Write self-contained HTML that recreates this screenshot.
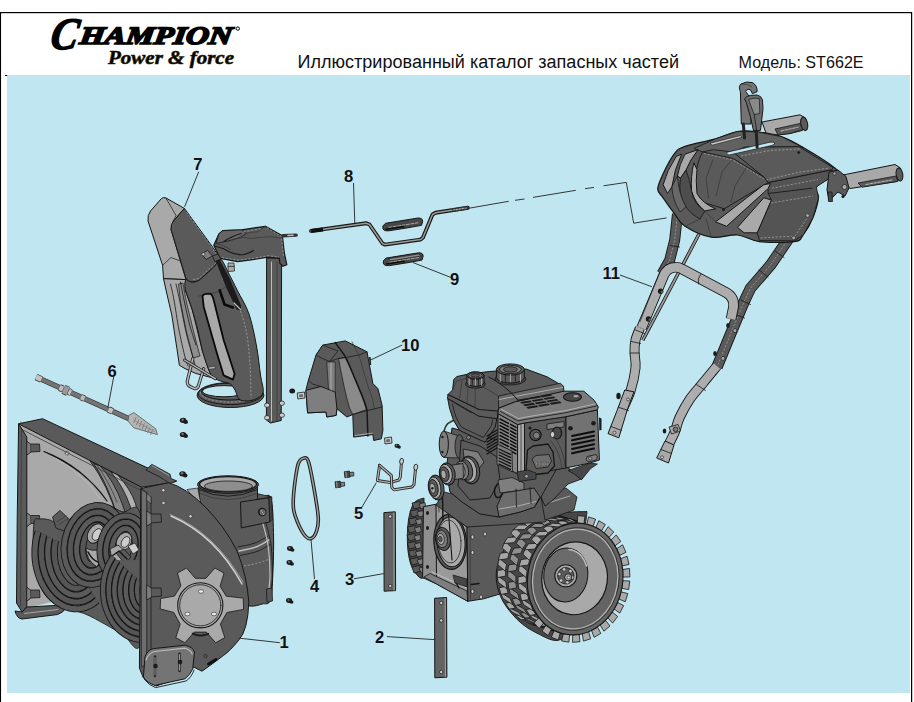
<!DOCTYPE html>
<html><head><meta charset="utf-8">
<style>
html,body{margin:0;padding:0;background:#fff;}
body{width:914px;height:702px;overflow:hidden;font-family:"Liberation Sans",sans-serif;}
svg{display:block;position:absolute;left:0;top:0;}
text{font-family:"Liberation Sans",sans-serif;}
.lb{font-weight:bold;font-size:16.6px;fill:#111;}
.ld{stroke:#222;stroke-width:0.9;fill:none;}
.d{fill:#5a5a5a;stroke:#161616;stroke-width:1;stroke-linejoin:round;}
.dd{fill:#474747;stroke:#161616;stroke-width:1;stroke-linejoin:round;}
.m{fill:#7e7e7e;stroke:#161616;stroke-width:1;stroke-linejoin:round;}
.l{fill:#a9a9a9;stroke:#161616;stroke-width:1;stroke-linejoin:round;}
.vl{fill:#cdcdcd;stroke:#161616;stroke-width:1;stroke-linejoin:round;}
.k{fill:#1b1b1b;stroke:none;}
.bg{fill:#c0e7f1;stroke:#161616;stroke-width:1;}
.n{fill:none;stroke:#161616;stroke-width:1;stroke-linecap:round;stroke-linejoin:round;}
.n2{fill:none;stroke:#161616;stroke-width:2;stroke-linecap:round;stroke-linejoin:round;}
.ng{fill:none;stroke:#3a3a3a;stroke-width:0.8;stroke-linecap:round;stroke-linejoin:round;}
.nw{fill:none;stroke:#b9b9b9;stroke-width:0.6;stroke-linecap:butt;stroke-dasharray:2.2 1.6;}
.nl{fill:none;stroke:#bdbdbd;stroke-width:1;stroke-linecap:round;}
</style></head><body>
<svg width="914" height="702" viewBox="0 0 914 702">
<g id="p_frame">
<rect x="0" y="0" width="914" height="702" fill="#fff"/>
<rect x="7" y="75" width="903" height="618" fill="#c0e7f1"/>
<rect x="0" y="12" width="1.05" height="690" fill="#000"/>
<rect x="911" y="12" width="1.2" height="690" fill="#000"/>
<rect x="0" y="12" width="912" height="1.2" fill="#000"/>
<rect x="5" y="75" width="2.2" height="1" fill="#000"/>
<g transform="translate(49,48.5) skewX(-10)"><text x="0" y="0" style="font-family:'Liberation Serif',serif;font-weight:bold;font-style:italic;font-size:45px" fill="#000" stroke="#000" stroke-width="1.4" textLength="27" lengthAdjust="spacingAndGlyphs">C</text></g>
<g transform="translate(79,43.8) skewX(-8)"><text x="0" y="0" style="font-family:'Liberation Serif',serif;font-weight:bold;font-style:italic;font-size:25px" fill="#000" stroke="#000" stroke-width="1.7" textLength="152" lengthAdjust="spacingAndGlyphs">HAMPION</text></g>
<circle cx="237.8" cy="28.6" r="1.7" fill="none" stroke="#000" stroke-width="1"/>
<text x="108" y="63.6" style="font-family:'Liberation Serif',serif;font-weight:bold;font-style:italic;font-size:19px" fill="#000" stroke="#2a2000" stroke-width="0.6" textLength="126" lengthAdjust="spacingAndGlyphs">Power &amp; force</text>
<text x="297.5" y="68" font-size="18" fill="#111" textLength="381.5" lengthAdjust="spacingAndGlyphs">Иллюстрированный каталог запасных частей</text>
<text x="738.6" y="68" font-size="16.2" fill="#111" textLength="125" lengthAdjust="spacingAndGlyphs">Модель: ST662E</text>
</g>
<g id="p_chute">
<ellipse class="d" cx="230.5" cy="395.3" rx="33.4" ry="12.2" />
<ellipse class="n" cx="230.5" cy="393.6" rx="32.4" ry="11.0" />
<ellipse class="nw" cx="230.5" cy="392.6" rx="30.0" ry="9.4" />
<ellipse class="d" cx="229.5" cy="391.6" rx="28.0" ry="8.4" />
<ellipse class="bg" cx="224.0" cy="391.2" rx="21.5" ry="5.6" />
<polygon class="d" points="266.6,258.0 281.6,258.0 281.2,420.5 270.5,423.0 266.4,420.0" />
<line class="nl" x1="271.5" y1="262.0" x2="271.5" y2="421.0" />
<line class="ng" x1="277.0" y1="262.0" x2="277.0" y2="421.0" />
<ellipse class="vl" cx="267.1" cy="405.2" rx="2.6" ry="2.2" style="stroke-width:0.7"/>
<ellipse class="vl" cx="267.1" cy="417.7" rx="2.6" ry="2.2" style="stroke-width:0.7"/>
<ellipse class="vl" cx="281.9" cy="403.2" rx="2.6" ry="2.2" style="stroke-width:0.7"/>
<ellipse class="vl" cx="281.9" cy="415.2" rx="2.6" ry="2.2" style="stroke-width:0.7"/>
<polygon class="d" points="213.8,245.2 218.9,233.9 222.6,230.7 241.5,229.8 265.4,226.3 282.4,235.8 284.3,252.7 286.8,264.7 283.0,266.3 279.9,263.4 279.3,258.4 267.9,257.1 252.8,259.7 237.7,261.6 220.1,258.4" style="stroke-width:1.2"/>
<polygon class="d" points="218.9,233.9 222.6,230.7 241.5,229.8 246.5,233.5 240.0,237.5 230.0,240.5 216.0,243.5" style="stroke-width:0.8;fill:#656565"/>
<path class="n" d="M214.5,246 Q222,247.5 228.5,251.5 Q236,255.5 244,254.5 Q250,253 253.5,250.5" style="stroke-width:1.1"/>
<path class="ng" d="M216,243.5 Q224,245 230.5,249.5" />
<path class="ng" d="M230,240.5 Q236,238 243,237.5 Q252,239.5 259,237.5 Q270,235.5 282,238" />
<path class="ng" d="M246.5,233.5 Q252,231.5 257,232 L265.4,226.3" />
<path class="n" d="M224,241.5 Q231,236.5 241,233.5" style="stroke-width:1.3"/>
<polyline class="nw" points="243.5,231.8 262.0,228.5" />
<polyline class="nw" points="267.0,227.8 281.5,236.5 283.5,256.0" />
<polyline class="nw" points="222.0,257.6 238.0,260.2 253.0,258.4 268.0,255.7 279.0,257.0" />
<polyline class="n" points="283.0,235.8 296.2,235.1" style="stroke-width:3.4;stroke:#333"/>
<polyline class="nl" points="288.0,235.5 293.0,235.3" style="stroke-width:1.6"/>
<polygon class="l" points="228.0,263.0 234.0,263.0 234.5,271.0 228.0,271.5" style="stroke-width:0.7"/>
<line class="n" x1="228.0" y1="266.5" x2="234.3" y2="266.3" style="stroke-width:0.7"/>
<path class="l" d="M150.5,211 L161.5,198.5 Q163.5,196.8 166,198 L184.4,208.4 L173.5,221 L171,229.4 L186,279.6 L163.5,278.7 L162.6,265.3 L148,221 Q147.4,215 150.5,211Z" />
<polyline class="n" points="166.0,198.2 176.0,215.5 173.5,221.0" style="stroke-width:0.7"/>
<polyline class="n" points="162.6,265.3 171.0,257.5 183.0,262.0" style="stroke-width:0.7"/>
<polygon class="l" points="163.5,278.7 186.0,279.6 185.2,290.0 192.3,310.0 202.2,350.0 208.8,370.0 213.0,378.0 196.0,373.5 185.2,368.7 179.4,365.3 176.9,348.6 171.8,315.0 166.0,290.0" />
<path class="m" d="M183.0,283.0 C183.5,285.8 184.5,293.0 186.0,300.0 C187.5,307.0 190.2,317.5 192.0,325.0 C193.8,332.5 195.7,339.8 197.0,345.0 C198.3,350.2 199.5,354.2 200.0,356.0 L193,358 L186,330 L180.5,302 L178.5,284Z" style="stroke-width:0.7;fill:#8d8d8d"/>
<path class="n" d="M170.5,284.0 C171.1,286.7 172.6,292.3 174.0,300.0 C175.4,307.7 177.2,320.8 179.0,330.0 C180.8,339.2 183.0,349.0 184.5,355.0 C186.0,361.0 187.4,364.2 188.0,366.0" style="stroke-width:0.8"/>
<path class="n" d="M176.0,284.0 C176.7,287.0 178.3,294.0 180.0,302.0 C181.7,310.0 184.1,323.7 186.0,332.0 C187.9,340.3 190.0,346.5 191.5,352.0 C193.0,357.5 194.4,362.8 195.0,365.0" style="stroke-width:0.8"/>
<path class="n" d="M180.5,282.0 C181.1,285.0 182.4,292.7 184.0,300.0 C185.6,307.3 188.0,318.5 190.0,326.0 C192.0,333.5 195.0,341.8 196.0,345.0" style="stroke-width:0.8"/>
<path class="d" d="M186.0,279.6 C187.0,278.6 188.9,281.7 191.0,281.8 C193.1,281.9 194.8,282.9 198.6,280.4 C202.4,277.9 210.1,270.6 213.7,267.0 C217.3,263.4 217.8,257.5 220.4,258.7 C223.0,259.9 226.2,268.8 229.0,274.0 C231.8,279.2 233.8,283.3 237.1,290.0 C240.4,296.7 245.8,304.7 249.0,314.0 C252.2,323.3 254.6,335.8 256.5,346.0 C258.4,356.2 259.4,367.3 260.5,375.0 C261.6,382.7 263.8,388.1 263.2,392.0 C262.6,395.9 259.7,397.0 257.0,398.5 C254.3,400.0 250.0,400.9 247.0,401.0 C244.0,401.1 241.0,400.8 239.0,399.0 C237.0,397.2 236.5,392.6 235.0,390.0 C233.5,387.4 232.0,385.1 229.8,383.7 C227.6,382.3 224.7,382.5 222.0,381.5 C219.3,380.5 216.0,379.6 213.8,377.7 C211.6,375.8 210.7,374.6 208.8,370.0 C206.9,365.4 204.0,356.7 202.2,350.0 C200.4,343.3 199.6,336.7 197.9,330.0 C196.2,323.3 193.8,315.0 192.3,310.0 C190.8,305.0 190.1,303.7 188.9,300.0 C187.7,296.3 185.5,291.4 185.0,288.0 C184.5,284.6 185.0,280.6 186.0,279.6Z" />
<path class="nw" d="M222.0,278.0 C224.3,281.7 232.0,291.3 236.0,300.0 C240.0,308.7 243.7,319.2 246.0,330.0 C248.3,340.8 249.2,353.7 250.0,365.0 C250.8,376.3 250.8,392.5 251.0,398.0" />
<path class="ng" d="M199.0,296.0 C201.5,295.5 209.5,294.5 214.0,293.0 C218.5,291.5 224.0,288.0 226.0,287.0" />
<path class="d" d="M184.4,208.4 L213.7,248.6 L220.4,258.7 L213.7,267 L199.5,279.8 Q196,282.3 191,281.8 Q187.5,281 186,278.7 L171,229.4 Q170.6,224 173.5,221Z" />
<polyline class="nw" points="186.5,212.0 216.5,254.0" />
<polyline class="nw" points="218.5,260.5 199.0,278.5 191.5,280.0" />
<polygon class="m" points="201.5,253.5 207.5,250.5 212.5,256.0 206.0,259.5" style="stroke-width:0.8"/>
<circle class="vl" cx="203.3" cy="254.2" r="1.6" style="stroke-width:0.6"/>
<polygon class="d" points="212.5,256.0 218.0,254.0 221.0,259.5 215.0,262.0" style="stroke-width:0.8"/>
<polygon class="k" points="215.6,260.5 219.5,259.2 230.0,279.0 241.0,305.5 240.8,310.5 236.5,309.5 226.0,287.0" />
<polyline class="n" points="219.8,290.3 224.5,304.5 233.0,307.5" style="stroke-width:2.6;stroke:#0a0a0a"/>
<polyline class="nl" points="234.0,303.0 240.5,309.5" style="stroke-width:1.2"/>
<path class="l" d="M202.5,296 Q203.5,294 206,293.8 L210.3,293.7 Q212.5,295 213.7,300 L223.7,340.2 L234.6,373.7 L233,379.6 L223.7,375.4 L217,353.6 L203.7,306.7Z" style="stroke-width:1.8;stroke:#0a0a0a"/>
<path class="n" d="M192.8,358.6 L187.2,381.5 Q187.3,385.5 190.5,386.8 L194.5,388.6 Q197.5,389 198.5,385.5 L203.7,368.7" style="stroke-width:3.2;stroke:#222"/>
<path class="n" d="M192.8,358.6 L187.2,381.5 Q187.3,385.5 190.5,386.8 L194.5,388.6 Q197.5,389 198.5,385.5 L203.7,368.7" style="stroke-width:1.6;stroke:#b5b5b5"/>
<polyline class="n" points="184.5,360.0 215.4,378.7" style="stroke-width:3;stroke:#222"/>
<polyline class="n" points="184.5,360.0 215.4,378.7" style="stroke-width:1.4;stroke:#b5b5b5"/>
<polygon class="l" points="208.5,367.0 215.0,366.0 215.5,368.5 209.0,369.5" style="stroke-width:0.5"/>
</g>
<g id="p_rod">
<polyline class="n" points="311.0,230.9 366.0,223.2 369.5,224.5 382.5,243.5 385.0,244.6 420.5,239.6 423.0,237.5 432.5,214.5 435.5,212.8 467.8,207.8" style="stroke-width:3.9;stroke:#1a1a1a"/>
<polyline class="n" points="311.0,230.9 366.0,223.2 369.5,224.5 382.5,243.5 385.0,244.6 420.5,239.6 423.0,237.5 432.5,214.5 435.5,212.8 467.8,207.8" style="stroke-width:1.5;stroke:#9a9a9a"/>
<polyline class="n" points="311.0,231.0 323.0,229.4" style="stroke-width:4;stroke:#111;stroke-linecap:butt"/>
<polyline class="n" points="452.0,210.2 468.5,207.7" style="stroke-width:3.6;stroke:#333;stroke-linecap:butt"/>
<polyline class="n" points="453.0,210.0 467.0,207.9" style="stroke-width:1.2;stroke:#aaa;stroke-dasharray:1.5 1.5"/>
<line class="ld" x1="468.0" y1="208.4" x2="508.7" y2="201.3" />
<line class="ld" x1="515.0" y1="200.3" x2="524.5" y2="199.0" />
<line class="ld" x1="533.0" y1="197.4" x2="575.8" y2="190.3" />
<line class="ld" x1="585.0" y1="188.7" x2="594.0" y2="187.4" />
<line class="ld" x1="603.5" y1="185.8" x2="626.3" y2="182.4" />
<line class="ld" x1="626.3" y1="182.4" x2="633.7" y2="223.2" />
<line class="ld" x1="633.7" y1="223.2" x2="666.6" y2="217.9" />
<path class="dd" d="M383,225.8 L385.5,223.3 L418,218.0 Q423,217.8 422.6,221.8 L421.5,225.3 L406,228.10000000000002 L389,230.8 Q381.5,231.60000000000002 383,225.8Z" />
<polyline class="nl" points="389.0,227.4 419.0,222.6" style="stroke-width:0.8;stroke-dasharray:3 1.4"/>
<polyline class="n" points="386.0,229.2 404.0,226.4" style="stroke-width:1.5;stroke:#0c0c0c"/>
<path class="dd" d="M383.5,260.6 L386.0,258.1 L418.5,252.79999999999998 Q423.5,252.6 423.1,256.6 L422.0,260.1 L406.5,262.9 L389.5,265.6 Q382.0,266.4 383.5,260.6Z" />
<path class="m" d="M388.5,258.8 L418.5,254.0 L421.1,255.79999999999998 L391.0,260.8Z" style="stroke-width:0.5;fill:#8c8c8c"/>
<polyline class="nl" points="389.5,262.2 419.5,257.4" style="stroke-width:0.8;stroke-dasharray:3 1.4"/>
<polyline class="n" points="386.5,264.0 404.5,261.2" style="stroke-width:1.5;stroke:#0c0c0c"/>
</g>
<g id="p_cover">
<polygon class="d" points="322.7,345.1 345.3,340.9 367.0,351.8 370.4,370.2 372.9,383.6 377.9,388.6 382.1,405.3 382.9,430.4 381.3,438.8 373.7,440.5 372.9,434.6 353.6,437.1 352.8,414.5 346.9,417.0 336.9,408.7 336.1,415.4 326.8,417.0 326.0,412.0 307.6,412.9 305.9,390.3 308.4,380.2 316.0,355.1" />
<polygon class="m" points="305.9,390.3 321.0,386.5 335.2,392.0 336.9,408.7 336.1,415.4 326.8,417.0 326.0,412.0 307.6,412.9" />
<polygon class="m" points="326.8,362.0 335.2,362.0 335.2,392.0 328.5,389.0" style="stroke-width:0.6"/>
<line class="nl" x1="331.0" y1="363.0" x2="331.0" y2="390.0" style="stroke-width:0.8"/>
<polygon class="d" points="322.7,345.1 338.0,351.0 329.5,361.5 322.5,358.5 316.0,355.1" style="stroke-width:0.7"/>
<polyline class="n" points="308.4,380.2 312.5,384.0 321.0,386.5" style="stroke-width:0.7"/>
<path class="m" d="M338.6,358.5 L346,357.5 Q350,366 352,371.8 L361.2,393.6 L366.6,409.5 L352.8,414.5 L349.5,408 Q345,392 342.8,380.2 Q340,368 338.6,358.5Z" style="stroke-width:0.7;fill:#8a8a8a"/>
<path class="n" d="M335.2,342.6 L344.4,355.1 Q349,364 352,371.8 L361.2,393.6 Q365.5,404 367,410.3 L367.9,436" style="stroke-width:1.5"/>
<path class="ng" d="M352,341.8 L358.7,355.1 Q362,364 363.7,371.8 L368.5,388 Q373,398 374.5,409" />
<polyline class="n" points="352.8,414.5 361.0,412.2 382.0,407.0" style="stroke-width:0.8"/>
<polyline class="n" points="329.5,361.5 338.6,358.5 346.0,357.5 358.7,355.1 367.0,351.8" style="stroke-width:0.7"/>
<polyline class="nl" points="355.0,435.5 372.0,433.2" style="stroke-width:0.8"/>
<polygon class="k" points="369.0,357.0 370.6,357.0 371.2,365.0 369.6,365.0" />
<ellipse class="k" cx="292.2" cy="391.0" rx="2.9" ry="2.5" />
<polygon class="vl" points="297.2,393.0 304.5,392.0 305.0,398.0 297.8,399.0" style="stroke-width:0.8"/>
<polygon class="m" points="299.5,394.8 302.5,394.5 302.7,396.6 299.7,396.9" style="stroke-width:0.4"/>
<polygon class="vl" points="384.5,438.0 391.5,437.0 392.0,443.0 385.0,444.0" style="stroke-width:0.8"/>
<polygon class="m" points="386.5,439.8 389.5,439.5 389.7,441.6 386.7,441.9" style="stroke-width:0.4"/>
<ellipse class="k" cx="397.0" cy="445.8" rx="2.6" ry="2.1" />
<ellipse class="k" cx="399.1" cy="447.1" rx="1.8" ry="1.6" />
<circle cx="396.5" cy="445.3" r="0.9" fill="#777"/>
</g>
<g id="p_handle">
<path class="n" d="M699.0,234.0 L670.0,289.0 L642.8,340.2" style="stroke-width:3.5;stroke:#222;stroke-linecap:butt"/>
<path class="n" d="M699.0,234.0 L670.0,289.0 L642.8,340.2" style="stroke-width:1.7;stroke:#999;stroke-linecap:butt"/>
<polygon class="l" points="762.0,122.0 800.0,114.8 805.5,118.0 807.0,126.0 802.0,130.5 790.0,133.5 767.0,136.0" />
<polygon class="d" points="775.0,129.0 800.0,123.5 803.5,129.5 790.0,133.5 778.0,135.0" style="stroke-width:0.8"/>
<ellipse class="d" cx="804.2" cy="123.8" rx="3.4" ry="6.8" transform="rotate(-12 804.2 123.8)" />
<polyline class="nl" points="781.0,131.0 798.0,127.2" style="stroke-dasharray:2.5 1.5"/>
<path class="n" d="M677.5,214.0 L674.7,240.0 L669.6,260.5 L662.0,274.0" style="stroke-width:11.0;stroke:#161616;stroke-linecap:butt"/>
<path class="n" d="M677.5,214.0 L674.7,240.0 L669.6,260.5 L662.0,274.0" style="stroke-width:9.2;stroke:#5a5a5a;stroke-linecap:butt"/>
<path class="nw" d="M677.5,214.0 L674.7,240.0 L669.6,260.5 L662.0,274.0" />
<polyline class="n" points="670.5,245.5 679.5,247.0" style="stroke-width:0.8"/>
<polyline class="n" points="666.0,264.0 673.0,268.0" style="stroke-width:0.8"/>
<path class="n" d="M789.0,238.0 L771.0,264.5 L750.4,288.4 L743.5,303.0 L731.0,333.0 L717.0,367.0" style="stroke-width:11.4;stroke:#161616;stroke-linecap:butt"/>
<path class="n" d="M789.0,238.0 L771.0,264.5 L750.4,288.4 L743.5,303.0 L731.0,333.0 L717.0,367.0" style="stroke-width:9.6;stroke:#5a5a5a;stroke-linecap:butt"/>
<path class="nw" d="M789.0,238.0 L771.0,264.5 L750.4,288.4 L743.5,303.0 L731.0,333.0 L717.0,367.0" />
<polyline class="n" points="775.0,251.0 784.0,257.5" style="stroke-width:0.8"/>
<polyline class="n" points="759.0,270.0 768.0,277.0" style="stroke-width:0.8"/>
<polyline class="n" points="741.0,300.0 750.5,304.5" style="stroke-width:0.8"/>
<polyline class="n" points="735.0,314.0 744.5,318.0" style="stroke-width:0.8"/>
<circle class="l" cx="793.5" cy="237.8" r="2.0" style="stroke-width:0.7"/>
<circle class="l" cx="734.9" cy="330.6" r="2.0" style="stroke-width:0.7"/>
<circle class="l" cx="723.0" cy="358.4" r="2.0" style="stroke-width:0.7"/>
<ellipse class="k" cx="728.0" cy="325.5" rx="1.8" ry="2.6" />
<ellipse class="k" cx="715.0" cy="353.5" rx="1.8" ry="2.6" />
<path class="n" d="M641.5,328 L663.5,276 Q667,267.5 675,267.3 Q678.5,267 682,269 L726,292.5 Q734.5,297 733.5,307 L731,319" style="stroke-width:10.6;stroke:#161616;stroke-linecap:butt"/>
<path class="n" d="M641.5,328 L663.5,276 Q667,267.5 675,267.3 Q678.5,267 682,269 L726,292.5 Q734.5,297 733.5,307 L731,319" style="stroke-width:8.8;stroke:#adadad;stroke-linecap:butt"/>
<path class="n" d="M700.5,274.5 Q697,279 698.5,284" style="stroke-width:0.8"/>
<line class="n" x1="659.5" y1="272.5" x2="640.0" y2="321.5" style="stroke-width:0.7"/>
<path class="n" d="M640.0,328.0 C639.2,330.0 636.4,336.0 635.5,340.0 C634.6,344.0 634.5,347.3 634.5,352.0 C634.5,356.7 636.2,361.5 635.5,368.0 C634.8,374.5 632.7,384.0 630.5,391.0 C628.3,398.0 623.6,407.0 622.2,410.2" style="stroke-width:10.0;stroke:#161616;stroke-linecap:butt"/>
<path class="n" d="M640.0,328.0 C639.2,330.0 636.4,336.0 635.5,340.0 C634.6,344.0 634.5,347.3 634.5,352.0 C634.5,356.7 636.2,361.5 635.5,368.0 C634.8,374.5 632.7,384.0 630.5,391.0 C628.3,398.0 623.6,407.0 622.2,410.2" style="stroke-width:8.2;stroke:#adadad;stroke-linecap:butt"/>
<polygon class="l" points="624.7,390.0 633.9,391.8 627.2,410.2 618.8,437.8 608.0,433.6 617.2,410.2" />
<polyline class="n" points="619.0,407.5 628.5,410.5" style="stroke-width:0.8"/>
<polyline class="n" points="611.0,426.5 621.5,430.5" style="stroke-width:0.8"/>
<circle class="vl" cx="614.5" cy="432.7" r="1.5" style="stroke-width:0.6"/>
<circle class="vl" cx="628.0" cy="399.5" r="1.5" style="stroke-width:0.6"/>
<ellipse class="k" cx="618.5" cy="396.0" rx="2.2" ry="3.2" />
<polyline class="n" points="631.5,341.5 640.5,343.5" style="stroke-width:0.8"/>
<polyline class="n" points="630.3,353.0 639.3,353.0" style="stroke-width:0.8"/>
<polyline class="n" points="635.5,330.0 644.5,333.5" style="stroke-width:0.8"/>
<circle class="k" cx="660.6" cy="291.2" r="2.7" />
<circle class="m" cx="661.9" cy="291.9" r="1.2" style="stroke-width:0.4"/>
<circle class="k" cx="648.5" cy="319.0" r="2.7" />
<circle class="m" cx="649.8" cy="319.7" r="1.2" style="stroke-width:0.4"/>
<path class="n" d="M717.0,366.0 C714.7,368.8 707.5,377.4 703.0,383.0 C698.5,388.6 693.6,393.7 689.7,399.4 C685.8,405.1 682.2,412.0 679.7,417.3 C677.2,422.6 676.7,427.0 675.0,431.3 C673.3,435.6 670.4,441.1 669.5,443.0" style="stroke-width:10.200000000000001;stroke:#161616;stroke-linecap:butt"/>
<path class="n" d="M717.0,366.0 C714.7,368.8 707.5,377.4 703.0,383.0 C698.5,388.6 693.6,393.7 689.7,399.4 C685.8,405.1 682.2,412.0 679.7,417.3 C677.2,422.6 676.7,427.0 675.0,431.3 C673.3,435.6 670.4,441.1 669.5,443.0" style="stroke-width:8.4;stroke:#adadad;stroke-linecap:butt"/>
<polyline class="n" points="696.5,384.5 705.5,390.5" style="stroke-width:0.8"/>
<polygon class="l" points="665.0,441.0 674.0,445.0 668.5,463.0 656.7,458.0" />
<polyline class="n" points="661.0,449.5 671.5,453.5" style="stroke-width:0.8"/>
<circle class="vl" cx="662.0" cy="457.3" r="1.5" style="stroke-width:0.6"/>
<polygon class="l" points="669.0,427.0 678.0,424.5 680.5,431.0 671.5,434.0" style="stroke-width:0.8"/>
<circle class="m" cx="675.5" cy="429.3" r="2.3" style="stroke-width:0.8"/>
<ellipse class="k" cx="664.5" cy="431.0" rx="1.8" ry="2.6" />
<path class="d" d="M657.7,189.1 C657.7,185.1 660.4,179.6 663.1,173.8 C665.8,168.0 670.5,158.7 674.1,154.1 C677.8,149.5 678.1,148.9 685.0,146.4 C691.9,143.9 706.9,141.3 715.6,138.8 C724.4,136.3 730.6,132.7 737.5,131.5 C744.4,130.3 749.9,131.0 757.2,131.8 C764.5,132.7 773.6,134.0 781.3,136.6 C789.0,139.2 794.5,142.4 803.2,147.5 C812.0,152.6 828.3,162.8 833.8,167.2 C839.3,171.6 838.9,170.5 836.0,173.8 C833.1,177.1 819.2,182.9 816.3,186.9 C813.4,190.9 819.0,192.7 818.5,197.8 C818.0,202.9 815.5,211.3 813.0,217.5 C810.5,223.7 806.3,231.0 803.2,235.0 C800.1,239.0 801.7,240.5 794.4,241.6 C787.1,242.7 768.9,242.7 759.4,241.6 C749.9,240.5 745.5,235.7 737.5,235.0 C729.5,234.3 720.0,238.6 711.3,237.2 C702.5,235.8 691.2,230.3 685.0,226.3 C678.8,222.3 677.8,217.9 674.1,213.2 C670.5,208.4 665.8,201.8 663.1,197.8 C660.4,193.8 657.7,193.1 657.7,189.1Z" style="stroke-width:1.2"/>
<polygon class="d" points="768.2,182.5 831.6,169.8 835.0,174.5 816.3,186.9 818.5,197.8 813.0,217.5 803.2,235.0 794.4,240.8 759.4,240.5 757.2,232.8 771.4,200.0 768.2,193.5" style="fill:#545454;stroke-width:0.8"/>
<polyline class="n" points="768.2,193.5 811.9,188.2" style="stroke-width:0.9"/>
<polyline class="nw" points="771.0,203.0 813.0,196.0" />
<polyline class="nw" points="772.0,188.2 818.0,179.5" />
<polyline class="nw" points="760.5,238.0 795.0,236.0 810.0,214.0" />
<circle class="l" cx="807.5" cy="215.5" r="1.9" style="stroke-width:0.6"/>
<circle class="l" cx="793.7" cy="237.8" r="1.9" style="stroke-width:0.6"/>
<polygon class="d" points="733.0,152.0 745.0,147.0 798.8,146.5 833.0,167.5 831.6,169.8 768.2,182.5 763.8,177.0" style="stroke-width:0.9"/>
<polyline class="nw" points="741.0,156.0 770.0,150.5 800.0,149.0" />
<polyline class="nw" points="766.0,180.0 800.0,172.0 829.5,168.0" />
<circle class="k" cx="798.8" cy="152.6" r="1.4" />
<polygon class="d" points="715.6,138.8 737.5,131.5 757.2,131.8 781.3,136.6 803.2,147.5 798.8,146.5 745.0,147.0 733.0,152.0 713.5,149.7 702.5,151.9 694.0,148.5" style="stroke-width:0.8;fill:#616161"/>
<polygon class="vl" points="710.3,143.2 740.4,135.6 742.0,137.3 712.0,145.2" style="stroke-width:0.6"/>
<path class="bg" d="M727,152.2 L770,142.2 Q775.5,141.8 774.5,144 L772,145.4 L729,155 Q725.5,154.5 727,152.2Z" style="stroke-width:0.7"/>
<path class="d" d="M702.5,151.9 L733,158.4 L763.8,177 L768.2,182.5 L724.4,208.8 L702.5,202.2 Q696,197 694.9,191.3 Q694,178 697,167.2 Q699,158 702.5,151.9Z" style="stroke-width:0.9"/>
<polyline class="ng" points="733.0,158.4 722.0,172.0 716.0,196.0" />
<polyline class="ng" points="713.0,160.0 706.0,178.0 708.5,198.0" />
<polyline class="ng" points="746.0,168.0 735.0,186.0 731.0,202.0" />
<polyline class="nw" points="704.0,153.5 733.0,160.0 764.0,179.0" />
<path class="l" d="M663.1,184.7 Q667,170 676.3,156.3 L681.7,154.1 Q674,170 671.9,186.9 L667.5,193.5Z" />
<path class="l" d="M685,154.1 L698.1,149.7 Q690,160 686,170 L680.6,178.1 L677.4,176 Q679.5,164 685,154.1Z" />
<path class="l" d="M693.8,162.8 Q690.5,176 691.6,191.3 Q695,203 704.7,211 L715.6,208.8 Q702,203 697,193.5 Q695.5,180 697,169.4Z" />
<path class="d" d="M680.6,178.1 Q678,192 684,204 Q690,214 700,219 L704.7,211 Q694,204 691.6,191.3 Q690,180 686,170Z" style="stroke-width:0.8;fill:#4e4e4e"/>
<path class="m" d="M671.9,186.9 Q672.5,200 680,212 L686,207 Q679,195 677.4,176Z" style="stroke-width:0.7;fill:#686868"/>
<polygon class="l" points="715.6,221.9 763.8,184.7 770.4,183.6 768.2,188.5 726.6,226.3" />
<polygon class="l" points="737.5,227.4 763.8,197.8 771.4,200.0 757.2,232.8 744.1,232.8" />
<polyline class="ng" points="704.7,211.0 715.6,221.9" />
<polyline class="ng" points="711.3,237.2 706.0,219.0" />
<polyline class="ng" points="685.0,226.3 700.0,219.0" />
<circle class="k" cx="723.5" cy="209.5" r="1.5" />
<path class="m" d="M740.4,91.7 Q738,86.5 741,84 Q746.5,80.8 752.5,82.6 Q757.5,85.5 757.1,91.7 L752.3,93.6 Q751.5,89.5 748.8,89.2 Q746.3,89.3 745.6,91.5 L750.5,98 L751,124 L741.3,124 Z" style="fill:#747474"/>
<path class="ng" d="M741,84 Q746.5,83.5 751.5,86.5" />
<polyline class="n" points="743.3,124.0 744.6,138.0" style="stroke-width:3;stroke:#222"/>
<path class="m" d="M744.6,98.8 Q746.5,95.8 750.5,95.4 L757.1,95 Q761.5,96 762.4,99.8 L763,108.5 L760.5,130.4 L753.6,131 L750.4,116.8 L746.3,102.5 Z" style="fill:#6c6c6c"/>
<path class="m" d="M748.5,99.5 Q754,97.3 759.3,98.6 L759.8,113.5 L754.2,114.5 Z" style="stroke-width:0.7;fill:#8a8a8a"/>
<polyline class="n" points="754.2,114.5 756.5,130.0" style="stroke-width:0.8"/>
<polyline class="n" points="756.2,131.0 757.1,147.2" style="stroke-width:3;stroke:#222"/>
<polygon class="l" points="843.0,175.0 895.0,164.5 900.5,168.0 902.0,176.5 897.0,181.5 850.0,188.5 845.0,184.0" />
<polygon class="d" points="858.0,183.0 896.0,176.0 898.0,181.3 862.0,187.2" style="stroke-width:0.8"/>
<ellipse class="d" cx="899.5" cy="174.5" rx="3.3" ry="6.6" transform="rotate(-10 899.5 174.5)" />
<polyline class="nl" points="866.0,184.5 892.0,180.0" style="stroke-dasharray:2.5 1.5"/>
<polygon class="d" points="829.0,172.0 838.0,170.0 846.0,176.5 849.0,188.0 845.0,196.0 838.0,192.0 833.0,197.0 829.0,200.5 827.0,190.0" />
<circle class="l" cx="844.5" cy="187.0" r="2.5" style="stroke-width:0.7"/>
<circle class="l" cx="834.5" cy="173.5" r="1.6" style="stroke-width:0.6"/>
<polygon class="dd" points="828.0,192.0 832.0,192.0 832.5,201.5 828.5,201.5" style="stroke-width:0.8"/>
<circle class="k" cx="843.0" cy="196.5" r="1.6" />
</g>
<g id="p_housing">
<path class="d" d="M200.0,500.0 C205.8,489.5 230.3,497.0 240.0,497.0 C249.7,497.0 252.9,500.0 258.0,500.0 C263.1,500.0 267.8,491.6 270.4,497.0 C273.0,502.4 273.1,520.3 273.5,532.5 C273.9,544.7 273.5,558.8 273.0,570.0 C272.5,581.2 272.2,594.3 270.4,600.0 C268.6,605.7 265.4,603.0 262.0,604.0 C258.6,605.0 254.5,606.7 250.0,606.0 C245.5,605.3 242.5,607.7 235.0,600.0 C227.5,592.3 210.8,576.7 205.0,560.0 C199.2,543.3 194.2,510.5 200.0,500.0Z" />
<polygon class="d" points="257.2,493.6 271.4,497.0 269.0,497.7 240.5,502.0" style="stroke-width:0.8"/>
<polygon class="d" points="198.5,485.0 257.5,485.0 257.5,540.0 198.5,540.0" style="stroke:none"/>
<line class="n" x1="198.5" y1="485.0" x2="200.5" y2="512.0" />
<line class="n" x1="257.5" y1="485.0" x2="257.5" y2="500.0" />
<ellipse class="d" cx="228.0" cy="484.6" rx="30.5" ry="8.8" />
<ellipse class="l" cx="228.0" cy="484.2" rx="28.5" ry="7.6" style="stroke-width:1.4"/>
<ellipse class="d" cx="228.5" cy="486.2" rx="24.0" ry="5.2" style="stroke-width:0.8;fill:#8e8e8e"/>
<path class="n" d="M198.5,489.5 Q228,503 257.5,489.5" style="stroke-width:0.9"/>
<path class="ng" d="M199,493 Q228,506.5 257.5,493" />
<polygon class="l" points="187.0,489.6 197.8,488.0 199.5,497.0 202.0,508.0" style="stroke-width:0.7"/>
<polygon class="d" points="240.5,502.0 269.0,497.7 269.8,522.0 241.3,527.9" />
<polygon class="dd" points="269.0,497.7 271.8,496.8 272.3,519.5 269.8,522.0" style="stroke-width:0.7"/>
<circle class="k" cx="262.2" cy="512.0" r="4.3" />
<circle class="d" cx="262.6" cy="512.2" r="2.6" style="stroke:#888;stroke-width:0.8"/>
<line class="nl" x1="261.0" y1="510.0" x2="263.6" y2="514.6" style="stroke-width:0.8"/>
<path class="n" d="M238.0,547.0 C240.8,546.3 250.0,544.8 255.0,543.0 C260.0,541.2 265.8,537.2 268.0,536.0" style="stroke-width:0.8"/>
<path class="nl" d="M239.0,551.0 C241.8,550.3 251.0,548.8 256.0,547.0 C261.0,545.2 266.8,541.2 269.0,540.0" style="stroke-width:1.6"/>
<path class="n" d="M240.0,555.5 C242.8,554.8 252.0,553.3 257.0,551.5 C262.0,549.7 267.8,545.7 270.0,544.5" style="stroke-width:0.8"/>
<path class="nw" d="M244.0,566.0 C246.3,565.5 253.7,564.2 258.0,563.0 C262.3,561.8 268.0,559.7 270.0,559.0" />
<path class="nl" d="M263.0,524.0 C263.8,527.5 266.8,536.5 268.0,545.0 C269.2,553.5 270.0,566.3 270.0,575.0 C270.0,583.7 268.3,593.3 268.0,597.0" style="stroke-width:1.2"/>
<path class="n" d="M266.0,523.0 C266.8,526.7 269.9,536.3 271.0,545.0 C272.1,553.7 272.6,566.2 272.5,575.0 C272.4,583.8 270.8,594.2 270.5,598.0" style="stroke-width:0.8"/>
<polygon class="d" points="266.5,589.0 272.0,588.0 272.5,601.0 267.0,602.0" style="stroke-width:0.8"/>
<polygon class="l" points="20.0,421.0 141.7,483.0 141.7,600.0 60.0,600.0 26.8,608.0" style="stroke:none"/>
<path class="d" d="M89.7,460.5 L141.7,487 L141.7,560 L118,520 Q108,485 89.7,460.5Z" style="stroke-width:0.8"/>
<path class="m" d="M93.7,463.6 Q103.7,478 112.1,500.4 L116,512 L125,512 L122.2,503.7 Q113.8,481 100.4,466.1Z" style="stroke-width:0.8;fill:#8a8a8a"/>
<path class="l" d="M110.4,471.1 Q123.8,487 130.5,507.1 L132,515 L137.5,512 L135.5,503.7 Q130.5,488.5 117.1,474.4Z" style="stroke-width:0.8;fill:#b0b0b0"/>
<path class="ng" d="M97,465 Q108,480 117,502" />
<path class="d" d="M44,451.5 Q82,466 107,501 Q86,470 44,451.5Z" style="stroke-width:1.2"/>
<path class="nl" d="M56,458.5 Q84,474 101,500" style="stroke-width:0.8"/>
<polygon class="vl" points="64.8,453.0 67.2,450.8 69.4,453.2 67.0,455.4" style="stroke-width:0.6"/>
<polygon class="d" points="18.6,423.8 42.6,418.7 149.0,468.6 176.0,481.5 168.5,483.2 141.7,487.2" />
<line class="ng" x1="20.0" y1="428.5" x2="141.0" y2="490.5" />
<polygon class="d" points="145.9,470.1 151.8,464.3 170.2,474.3 171.0,478.5 176.9,481.0 170.0,483.5 160.0,477.0" style="stroke-width:0.8"/>
<line class="nl" x1="152.0" y1="465.5" x2="169.0" y2="475.5" style="stroke-width:0.7"/>
<polygon class="d" points="18.6,423.8 26.8,437.0 26.8,607.0 22.0,612.0 16.5,603.0 17.2,520.0" />
<line class="ng" x1="21.5" y1="430.0" x2="20.5" y2="606.0" />
<polygon class="d" points="26.8,441.5 30.5,444.0 39.5,444.0 40.0,451.5 31.0,452.0 26.8,455.0" style="stroke-width:0.8"/>
<polygon class="m" points="26.8,441.5 30.5,444.0 30.8,452.0 26.8,455.0" style="stroke-width:0.5"/>
<polygon class="d" points="26.8,513.0 30.5,515.5 39.5,515.5 40.0,523.0 31.0,523.5 26.8,526.5" style="stroke-width:0.8"/>
<polygon class="m" points="26.8,513.0 30.5,515.5 30.8,523.5 26.8,526.5" style="stroke-width:0.5"/>
<polygon class="d" points="26.8,587.5 30.5,590.0 39.5,590.0 40.0,597.5 31.0,598.0 26.8,601.0" style="stroke-width:0.8"/>
<polygon class="m" points="26.8,587.5 30.5,590.0 30.8,598.0 26.8,601.0" style="stroke-width:0.5"/>
<path class="d" d="M15,611 Q17,618.5 22,619 L57.7,614.5 Q64,612 65.8,608 L55.4,605.5 L26.8,607 L22,612Z" />
<line class="nl" x1="24.5" y1="613.5" x2="58.0" y2="609.5" style="stroke-width:0.8"/>
<path class="d" d="M34.0,523.0 C35.0,516.2 37.3,519.5 40.0,519.0 C42.7,518.5 46.3,519.0 50.0,520.0 C53.7,521.0 57.7,526.1 62.0,525.0 C66.3,523.9 70.6,517.2 76.0,513.5 C81.4,509.8 88.7,504.2 94.4,503.0 C100.1,501.8 105.3,504.5 110.0,506.0 C114.7,507.5 117.4,510.0 122.6,512.0 C127.8,514.0 137.9,496.5 141.0,518.0 C144.1,539.5 144.1,621.7 141.0,641.0 C137.9,660.3 128.7,636.8 122.6,634.0 C116.5,631.2 111.0,627.4 104.6,624.0 C98.2,620.6 91.7,616.5 84.0,613.5 C76.3,610.5 65.5,609.9 58.5,606.0 C51.5,602.1 46.1,597.7 42.0,590.0 C37.9,582.3 35.3,571.2 34.0,560.0 C32.7,548.8 33.0,529.8 34.0,523.0Z" style="stroke-width:0.8"/>
<polygon class="d" points="52.5,517.0 60.0,510.5 71.0,521.0 64.0,531.0 56.0,528.0" style="stroke-width:0.8"/>
<polyline class="ng" points="57.0,522.0 66.0,515.5" />
<polyline class="ng" points="59.0,525.0 68.0,518.5" />
<path class="n" d="M97.1,600.6 L94.0,603.1 L90.8,605.1 L87.4,606.7 L83.9,607.9 L80.4,608.6 L76.7,608.9 L73.1,608.7 L69.4,608.0 L65.8,606.9 L62.3,605.3 L58.8,603.3 L55.5,600.9 L52.4,598.1 L49.4,594.9 L46.7,591.4 L44.2,587.6 L41.9,583.5 L40.0,579.2 L38.3,574.6 L37.0,569.9 L35.9,565.1 L35.2,560.2 L34.9,555.3 L34.9,550.3 L35.2,545.5 L35.8,540.7 L36.8,536.0 L38.2,531.5" style="stroke-width:6.9;stroke:#141414;stroke-linecap:butt"/>
<path class="n" d="M97.1,600.6 L94.0,603.1 L90.8,605.1 L87.4,606.7 L83.9,607.9 L80.4,608.6 L76.7,608.9 L73.1,608.7 L69.4,608.0 L65.8,606.9 L62.3,605.3 L58.8,603.3 L55.5,600.9 L52.4,598.1 L49.4,594.9 L46.7,591.4 L44.2,587.6 L41.9,583.5 L40.0,579.2 L38.3,574.6 L37.0,569.9 L35.9,565.1 L35.2,560.2 L34.9,555.3 L34.9,550.3 L35.2,545.5 L35.8,540.7 L36.8,536.0 L38.2,531.5" style="stroke-width:5.2;stroke:#5a5a5a;stroke-linecap:butt"/>
<path class="n" d="M93.4,595.0 L90.9,597.1 L88.2,598.8 L85.4,600.2 L82.5,601.2 L79.5,601.8 L76.5,602.0 L73.4,601.9 L70.4,601.3 L67.4,600.3 L64.4,598.9 L61.5,597.1 L58.8,595.0 L56.1,592.6 L53.7,589.8 L51.4,586.7 L49.3,583.4 L47.4,579.8 L45.7,576.0 L44.3,572.1 L43.2,568.0 L42.3,563.8 L41.7,559.5 L41.4,555.2 L41.3,550.9 L41.6,546.7 L42.1,542.5 L42.9,538.4 L44.0,534.5" style="stroke-width:6.9;stroke:#141414;stroke-linecap:butt"/>
<path class="n" d="M93.4,595.0 L90.9,597.1 L88.2,598.8 L85.4,600.2 L82.5,601.2 L79.5,601.8 L76.5,602.0 L73.4,601.9 L70.4,601.3 L67.4,600.3 L64.4,598.9 L61.5,597.1 L58.8,595.0 L56.1,592.6 L53.7,589.8 L51.4,586.7 L49.3,583.4 L47.4,579.8 L45.7,576.0 L44.3,572.1 L43.2,568.0 L42.3,563.8 L41.7,559.5 L41.4,555.2 L41.3,550.9 L41.6,546.7 L42.1,542.5 L42.9,538.4 L44.0,534.5" style="stroke-width:5.2;stroke:#555;stroke-linecap:butt"/>
<path class="n" d="M89.8,589.3 L87.8,591.1 L85.6,592.6 L83.4,593.7 L81.0,594.6 L78.7,595.1 L76.2,595.2 L73.8,595.0 L71.3,594.5 L68.9,593.7 L66.5,592.5 L64.2,591.0 L62.0,589.2 L59.9,587.1 L57.9,584.7 L56.0,582.1 L54.3,579.2 L52.8,576.1 L51.5,572.9 L50.3,569.5 L49.4,566.0 L48.7,562.5 L48.2,558.8 L47.9,555.1 L47.8,551.5 L48.0,547.9 L48.4,544.3 L49.0,540.9 L49.9,537.6" style="stroke-width:6.9;stroke:#141414;stroke-linecap:butt"/>
<path class="n" d="M89.8,589.3 L87.8,591.1 L85.6,592.6 L83.4,593.7 L81.0,594.6 L78.7,595.1 L76.2,595.2 L73.8,595.0 L71.3,594.5 L68.9,593.7 L66.5,592.5 L64.2,591.0 L62.0,589.2 L59.9,587.1 L57.9,584.7 L56.0,582.1 L54.3,579.2 L52.8,576.1 L51.5,572.9 L50.3,569.5 L49.4,566.0 L48.7,562.5 L48.2,558.8 L47.9,555.1 L47.8,551.5 L48.0,547.9 L48.4,544.3 L49.0,540.9 L49.9,537.6" style="stroke-width:5.2;stroke:#5a5a5a;stroke-linecap:butt"/>
<path class="n" d="M86.1,583.6 L84.6,585.1 L83.0,586.3 L81.3,587.2 L79.6,587.9 L77.8,588.3 L76.0,588.4 L74.2,588.2 L72.3,587.8 L70.5,587.1 L68.7,586.1 L66.9,584.8 L65.3,583.3 L63.7,581.5 L62.1,579.6 L60.7,577.4 L59.4,575.0 L58.2,572.5 L57.2,569.8 L56.3,567.0 L55.6,564.1 L55.0,561.1 L54.6,558.1 L54.4,555.1 L54.3,552.1 L54.4,549.1 L54.7,546.2 L55.1,543.3 L55.8,540.6" style="stroke-width:6.9;stroke:#141414;stroke-linecap:butt"/>
<path class="n" d="M86.1,583.6 L84.6,585.1 L83.0,586.3 L81.3,587.2 L79.6,587.9 L77.8,588.3 L76.0,588.4 L74.2,588.2 L72.3,587.8 L70.5,587.1 L68.7,586.1 L66.9,584.8 L65.3,583.3 L63.7,581.5 L62.1,579.6 L60.7,577.4 L59.4,575.0 L58.2,572.5 L57.2,569.8 L56.3,567.0 L55.6,564.1 L55.0,561.1 L54.6,558.1 L54.4,555.1 L54.3,552.1 L54.4,549.1 L54.7,546.2 L55.1,543.3 L55.8,540.6" style="stroke-width:5.2;stroke:#555;stroke-linecap:butt"/>
<ellipse class="d" cx="94.4" cy="545.0" rx="32.0" ry="42.0" transform="rotate(12 94.4 545.0)" style="stroke:none"/>
<path class="n" d="M123.7,551.2 L121.2,559.8 L117.2,567.6 L112.2,574.3 L106.2,579.5 L99.6,583.0 L92.8,584.5 L86.1,584.1 L79.8,581.8 L74.2,577.5 L69.6,571.7 L66.3,564.5 L64.4,556.4 L63.9,547.6 L65.1,538.8 L67.6,530.2 L71.6,522.4 L76.6,515.7 L82.6,510.5 L89.2,507.0 L96.0,505.5 L102.7,505.9 L109.0,508.2 L114.6,512.5 L119.2,518.3 L122.5,525.5 L124.4,533.6 L124.9,542.4 L123.7,551.2" style="stroke-width:6.7;stroke:#141414;stroke-linecap:butt"/>
<path class="n" d="M123.7,551.2 L121.2,559.8 L117.2,567.6 L112.2,574.3 L106.2,579.5 L99.6,583.0 L92.8,584.5 L86.1,584.1 L79.8,581.8 L74.2,577.5 L69.6,571.7 L66.3,564.5 L64.4,556.4 L63.9,547.6 L65.1,538.8 L67.6,530.2 L71.6,522.4 L76.6,515.7 L82.6,510.5 L89.2,507.0 L96.0,505.5 L102.7,505.9 L109.0,508.2 L114.6,512.5 L119.2,518.3 L122.5,525.5 L124.4,533.6 L124.9,542.4 L123.7,551.2" style="stroke-width:5;stroke:#5a5a5a;stroke-linecap:butt"/>
<path class="n" d="M117.6,549.9 L115.5,557.1 L112.3,563.6 L108.2,569.2 L103.4,573.6 L98.2,576.6 L92.8,577.9 L87.5,577.7 L82.5,575.7 L78.1,572.3 L74.5,567.5 L71.9,561.5 L70.5,554.7 L70.3,547.5 L71.2,540.1 L73.3,532.9 L76.5,526.4 L80.6,520.8 L85.4,516.4 L90.6,513.4 L96.0,512.1 L101.3,512.3 L106.3,514.3 L110.7,517.7 L114.3,522.5 L116.9,528.5 L118.3,535.3 L118.5,542.5 L117.6,549.9" style="stroke-width:6.7;stroke:#141414;stroke-linecap:butt"/>
<path class="n" d="M117.6,549.9 L115.5,557.1 L112.3,563.6 L108.2,569.2 L103.4,573.6 L98.2,576.6 L92.8,577.9 L87.5,577.7 L82.5,575.7 L78.1,572.3 L74.5,567.5 L71.9,561.5 L70.5,554.7 L70.3,547.5 L71.2,540.1 L73.3,532.9 L76.5,526.4 L80.6,520.8 L85.4,516.4 L90.6,513.4 L96.0,512.1 L101.3,512.3 L106.3,514.3 L110.7,517.7 L114.3,522.5 L116.9,528.5 L118.3,535.3 L118.5,542.5 L117.6,549.9" style="stroke-width:5;stroke:#555;stroke-linecap:butt"/>
<path class="n" d="M111.4,548.6 L109.8,554.4 L107.3,559.6 L104.2,564.2 L100.7,567.7 L96.8,570.2 L92.8,571.3 L88.8,571.2 L85.2,569.7 L82.0,567.0 L79.4,563.2 L77.6,558.5 L76.7,553.1 L76.6,547.3 L77.4,541.4 L79.0,535.6 L81.5,530.4 L84.6,525.8 L88.1,522.3 L92.0,519.8 L96.0,518.7 L100.0,518.8 L103.6,520.3 L106.8,523.0 L109.4,526.8 L111.2,531.5 L112.1,536.9 L112.2,542.7 L111.4,548.6" style="stroke-width:6.7;stroke:#141414;stroke-linecap:butt"/>
<path class="n" d="M111.4,548.6 L109.8,554.4 L107.3,559.6 L104.2,564.2 L100.7,567.7 L96.8,570.2 L92.8,571.3 L88.8,571.2 L85.2,569.7 L82.0,567.0 L79.4,563.2 L77.6,558.5 L76.7,553.1 L76.6,547.3 L77.4,541.4 L79.0,535.6 L81.5,530.4 L84.6,525.8 L88.1,522.3 L92.0,519.8 L96.0,518.7 L100.0,518.8 L103.6,520.3 L106.8,523.0 L109.4,526.8 L111.2,531.5 L112.1,536.9 L112.2,542.7 L111.4,548.6" style="stroke-width:5;stroke:#5a5a5a;stroke-linecap:butt"/>
<path class="n" d="M105.3,547.3 L104.1,551.6 L102.4,555.6 L100.3,559.1 L97.9,561.9 L95.3,563.8 L92.7,564.7 L90.2,564.7 L87.9,563.7 L85.9,561.8 L84.4,559.0 L83.3,555.5 L82.8,551.5 L82.9,547.1 L83.5,542.7 L84.7,538.4 L86.4,534.4 L88.5,530.9 L90.9,528.1 L93.5,526.2 L96.1,525.3 L98.6,525.3 L100.9,526.3 L102.9,528.2 L104.4,531.0 L105.5,534.5 L106.0,538.5 L105.9,542.9 L105.3,547.3" style="stroke-width:6.7;stroke:#141414;stroke-linecap:butt"/>
<path class="n" d="M105.3,547.3 L104.1,551.6 L102.4,555.6 L100.3,559.1 L97.9,561.9 L95.3,563.8 L92.7,564.7 L90.2,564.7 L87.9,563.7 L85.9,561.8 L84.4,559.0 L83.3,555.5 L82.8,551.5 L82.9,547.1 L83.5,542.7 L84.7,538.4 L86.4,534.4 L88.5,530.9 L90.9,528.1 L93.5,526.2 L96.1,525.3 L98.6,525.3 L100.9,526.3 L102.9,528.2 L104.4,531.0 L105.5,534.5 L106.0,538.5 L105.9,542.9 L105.3,547.3" style="stroke-width:5;stroke:#555;stroke-linecap:butt"/>
<ellipse class="l" cx="95.5" cy="533.5" rx="7.2" ry="10.5" transform="rotate(32 95.5 533.5)" style="stroke-width:0.9"/>
<ellipse class="vl" cx="97.0" cy="534.5" rx="4.0" ry="6.5" transform="rotate(32 97.0 534.5)" style="stroke-width:0.7"/>
<path class="l" d="M86,548 Q86,560 97,567 Q102,559 100,549 Q93,552 86,548Z" style="stroke-width:0.9"/>
<path class="n" d="M88,552 Q92,560 98,562" style="stroke-width:1.6"/>
<ellipse class="d" cx="123.5" cy="547.5" rx="25.0" ry="33.5" transform="rotate(10 123.5 547.5)" style="stroke:none"/>
<path class="n" d="M146.6,551.6 L144.8,558.5 L141.9,564.8 L138.1,570.3 L133.6,574.7 L128.5,577.7 L123.2,579.1 L117.9,579.0 L112.9,577.3 L108.5,574.1 L104.7,569.6 L101.9,564.0 L100.2,557.5 L99.7,550.5 L100.4,543.4 L102.2,536.5 L105.1,530.2 L108.9,524.7 L113.4,520.3 L118.5,517.3 L123.8,515.9 L129.1,516.0 L134.1,517.7 L138.5,520.9 L142.3,525.4 L145.1,531.0 L146.8,537.5 L147.3,544.5 L146.6,551.6" style="stroke-width:6.5;stroke:#141414;stroke-linecap:butt"/>
<path class="n" d="M146.6,551.6 L144.8,558.5 L141.9,564.8 L138.1,570.3 L133.6,574.7 L128.5,577.7 L123.2,579.1 L117.9,579.0 L112.9,577.3 L108.5,574.1 L104.7,569.6 L101.9,564.0 L100.2,557.5 L99.7,550.5 L100.4,543.4 L102.2,536.5 L105.1,530.2 L108.9,524.7 L113.4,520.3 L118.5,517.3 L123.8,515.9 L129.1,516.0 L134.1,517.7 L138.5,520.9 L142.3,525.4 L145.1,531.0 L146.8,537.5 L147.3,544.5 L146.6,551.6" style="stroke-width:4.8;stroke:#5a5a5a;stroke-linecap:butt"/>
<path class="n" d="M140.6,550.5 L139.2,556.1 L137.0,561.2 L134.1,565.6 L130.7,569.1 L126.9,571.5 L123.0,572.7 L119.1,572.7 L115.4,571.4 L112.1,568.9 L109.3,565.3 L107.3,560.9 L106.1,555.7 L105.8,550.2 L106.4,544.5 L107.8,538.9 L110.0,533.8 L112.9,529.4 L116.3,525.9 L120.1,523.5 L124.0,522.3 L127.9,522.3 L131.6,523.6 L134.9,526.1 L137.7,529.7 L139.7,534.1 L140.9,539.3 L141.2,544.8 L140.6,550.5" style="stroke-width:6.5;stroke:#141414;stroke-linecap:butt"/>
<path class="n" d="M140.6,550.5 L139.2,556.1 L137.0,561.2 L134.1,565.6 L130.7,569.1 L126.9,571.5 L123.0,572.7 L119.1,572.7 L115.4,571.4 L112.1,568.9 L109.3,565.3 L107.3,560.9 L106.1,555.7 L105.8,550.2 L106.4,544.5 L107.8,538.9 L110.0,533.8 L112.9,529.4 L116.3,525.9 L120.1,523.5 L124.0,522.3 L127.9,522.3 L131.6,523.6 L134.9,526.1 L137.7,529.7 L139.7,534.1 L140.9,539.3 L141.2,544.8 L140.6,550.5" style="stroke-width:4.8;stroke:#555;stroke-linecap:butt"/>
<path class="n" d="M134.6,549.5 L133.6,553.6 L132.1,557.5 L130.1,560.8 L127.8,563.5 L125.3,565.4 L122.7,566.4 L120.2,566.4 L117.8,565.5 L115.7,563.7 L114.0,561.1 L112.7,557.7 L112.0,553.9 L111.9,549.8 L112.4,545.5 L113.4,541.4 L114.9,537.5 L116.9,534.2 L119.2,531.5 L121.7,529.6 L124.3,528.6 L126.8,528.6 L129.2,529.5 L131.3,531.3 L133.0,533.9 L134.3,537.3 L135.0,541.1 L135.1,545.2 L134.6,549.5" style="stroke-width:6.5;stroke:#141414;stroke-linecap:butt"/>
<path class="n" d="M134.6,549.5 L133.6,553.6 L132.1,557.5 L130.1,560.8 L127.8,563.5 L125.3,565.4 L122.7,566.4 L120.2,566.4 L117.8,565.5 L115.7,563.7 L114.0,561.1 L112.7,557.7 L112.0,553.9 L111.9,549.8 L112.4,545.5 L113.4,541.4 L114.9,537.5 L116.9,534.2 L119.2,531.5 L121.7,529.6 L124.3,528.6 L126.8,528.6 L129.2,529.5 L131.3,531.3 L133.0,533.9 L134.3,537.3 L135.0,541.1 L135.1,545.2 L134.6,549.5" style="stroke-width:4.8;stroke:#5a5a5a;stroke-linecap:butt"/>
<ellipse class="l" cx="124.0" cy="541.5" rx="7.2" ry="9.6" transform="rotate(30 124.0 541.5)" style="stroke-width:0.9"/>
<ellipse class="vl" cx="125.5" cy="542.0" rx="3.8" ry="5.8" transform="rotate(30 125.5 542.0)" style="stroke-width:0.7"/>
<polygon class="l" points="110.0,549.0 118.0,545.0 126.0,552.0 121.0,562.0 112.0,560.0" style="stroke-width:0.8"/>
<polygon class="d" points="116.0,553.0 124.0,549.0 131.0,557.0 125.0,564.0" style="stroke-width:0.8"/>
<polyline class="n" points="112.0,556.0 119.0,551.0 127.0,559.0" style="stroke-width:1.4"/>
<polygon class="vl" points="128.0,546.0 135.0,543.0 139.0,550.0 133.0,554.0" style="stroke-width:0.7"/>
<path class="d" d="M135.5,641.2 L132.5,640.4 L129.6,639.4 L126.7,638.1 L123.9,636.6 L121.2,634.8 L118.6,632.8 L116.1,630.6 L113.8,628.1 L111.6,625.5 L109.5,622.7 L107.7,619.7 L106.0,616.6 L104.6,613.3 L103.3,609.9 L102.2,606.4 L101.3,602.8 L100.7,599.2 L100.2,595.5 L100.0,591.8 L100.0,588.1 L100.3,584.3 L100.7,580.7 L101.4,577.0 L102.2,573.4 L103.3,570.0 L104.6,566.6 L106.1,563.3 L107.8,560.2 L141,560 L141,641Z" style="stroke:none"/>
<path class="n" d="M139.5,639.8 L136.4,639.3 L133.3,638.5 L130.2,637.4 L127.3,636.0 L124.4,634.3 L121.7,632.3 L119.1,630.1 L116.6,627.6 L114.3,624.8 L112.2,621.9 L110.3,618.8 L108.6,615.4 L107.1,611.9 L105.8,608.3 L104.7,604.6 L103.9,600.8 L103.4,596.9 L103.1,592.9 L103.0,589.0 L103.2,585.0 L103.6,581.1 L104.3,577.2 L105.3,573.5 L106.4,569.8 L107.8,566.2 L109.4,562.8 L111.3,559.6 L113.3,556.5" style="stroke-width:6.1000000000000005;stroke:#141414;stroke-linecap:butt"/>
<path class="n" d="M139.5,639.8 L136.4,639.3 L133.3,638.5 L130.2,637.4 L127.3,636.0 L124.4,634.3 L121.7,632.3 L119.1,630.1 L116.6,627.6 L114.3,624.8 L112.2,621.9 L110.3,618.8 L108.6,615.4 L107.1,611.9 L105.8,608.3 L104.7,604.6 L103.9,600.8 L103.4,596.9 L103.1,592.9 L103.0,589.0 L103.2,585.0 L103.6,581.1 L104.3,577.2 L105.3,573.5 L106.4,569.8 L107.8,566.2 L109.4,562.8 L111.3,559.6 L113.3,556.5" style="stroke-width:4.4;stroke:#5a5a5a;stroke-linecap:butt"/>
<path class="n" d="M140.0,633.8 L137.3,633.4 L134.7,632.7 L132.1,631.7 L129.5,630.5 L127.1,629.0 L124.7,627.2 L122.5,625.3 L120.4,623.1 L118.4,620.7 L116.6,618.1 L114.9,615.3 L113.5,612.4 L112.2,609.3 L111.1,606.1 L110.2,602.8 L109.5,599.5 L109.0,596.0 L108.8,592.6 L108.7,589.1 L108.9,585.6 L109.2,582.2 L109.8,578.8 L110.6,575.4 L111.6,572.2 L112.8,569.1 L114.2,566.1 L115.8,563.2 L117.5,560.5" style="stroke-width:6.1000000000000005;stroke:#141414;stroke-linecap:butt"/>
<path class="n" d="M140.0,633.8 L137.3,633.4 L134.7,632.7 L132.1,631.7 L129.5,630.5 L127.1,629.0 L124.7,627.2 L122.5,625.3 L120.4,623.1 L118.4,620.7 L116.6,618.1 L114.9,615.3 L113.5,612.4 L112.2,609.3 L111.1,606.1 L110.2,602.8 L109.5,599.5 L109.0,596.0 L108.8,592.6 L108.7,589.1 L108.9,585.6 L109.2,582.2 L109.8,578.8 L110.6,575.4 L111.6,572.2 L112.8,569.1 L114.2,566.1 L115.8,563.2 L117.5,560.5" style="stroke-width:4.4;stroke:#555;stroke-linecap:butt"/>
<path class="n" d="M140.5,627.9 L138.3,627.5 L136.0,626.9 L133.9,626.0 L131.8,625.0 L129.7,623.7 L127.8,622.2 L125.9,620.5 L124.1,618.6 L122.5,616.5 L121.0,614.3 L119.6,611.9 L118.4,609.3 L117.3,606.7 L116.4,603.9 L115.6,601.1 L115.1,598.2 L114.7,595.2 L114.4,592.2 L114.4,589.2 L114.5,586.2 L114.9,583.2 L115.3,580.3 L116.0,577.4 L116.8,574.6 L117.8,571.9 L119.0,569.3 L120.3,566.9 L121.7,564.6" style="stroke-width:6.1000000000000005;stroke:#141414;stroke-linecap:butt"/>
<path class="n" d="M140.5,627.9 L138.3,627.5 L136.0,626.9 L133.9,626.0 L131.8,625.0 L129.7,623.7 L127.8,622.2 L125.9,620.5 L124.1,618.6 L122.5,616.5 L121.0,614.3 L119.6,611.9 L118.4,609.3 L117.3,606.7 L116.4,603.9 L115.6,601.1 L115.1,598.2 L114.7,595.2 L114.4,592.2 L114.4,589.2 L114.5,586.2 L114.9,583.2 L115.3,580.3 L116.0,577.4 L116.8,574.6 L117.8,571.9 L119.0,569.3 L120.3,566.9 L121.7,564.6" style="stroke-width:4.4;stroke:#5a5a5a;stroke-linecap:butt"/>
<path class="n" d="M141.0,621.9 L139.2,621.6 L137.4,621.1 L135.7,620.4 L134.0,619.5 L132.4,618.4 L130.8,617.1 L129.3,615.7 L127.9,614.1 L126.6,612.3 L125.4,610.4 L124.3,608.4 L123.3,606.3 L122.4,604.1 L121.7,601.7 L121.1,599.3 L120.6,596.9 L120.3,594.4 L120.1,591.9 L120.1,589.3 L120.2,586.8 L120.5,584.3 L120.9,581.8 L121.4,579.4 L122.1,577.0 L122.9,574.8 L123.8,572.6 L124.8,570.5 L126.0,568.6" style="stroke-width:6.1000000000000005;stroke:#141414;stroke-linecap:butt"/>
<path class="n" d="M141.0,621.9 L139.2,621.6 L137.4,621.1 L135.7,620.4 L134.0,619.5 L132.4,618.4 L130.8,617.1 L129.3,615.7 L127.9,614.1 L126.6,612.3 L125.4,610.4 L124.3,608.4 L123.3,606.3 L122.4,604.1 L121.7,601.7 L121.1,599.3 L120.6,596.9 L120.3,594.4 L120.1,591.9 L120.1,589.3 L120.2,586.8 L120.5,584.3 L120.9,581.8 L121.4,579.4 L122.1,577.0 L122.9,574.8 L123.8,572.6 L124.8,570.5 L126.0,568.6" style="stroke-width:4.4;stroke:#555;stroke-linecap:butt"/>
<path class="n" d="M141.5,616.0 L140.2,615.7 L138.8,615.3 L137.5,614.7 L136.2,614.0 L135.0,613.1 L133.8,612.0 L132.7,610.9 L131.7,609.6 L130.7,608.2 L129.8,606.6 L128.9,605.0 L128.2,603.3 L127.5,601.4 L127.0,599.6 L126.5,597.6 L126.2,595.6 L126.0,593.6 L125.8,591.5 L125.8,589.5 L125.9,587.4 L126.1,585.4 L126.4,583.3 L126.8,581.4 L127.3,579.5 L127.9,577.6 L128.6,575.8 L129.3,574.1 L130.2,572.6" style="stroke-width:6.1000000000000005;stroke:#141414;stroke-linecap:butt"/>
<path class="n" d="M141.5,616.0 L140.2,615.7 L138.8,615.3 L137.5,614.7 L136.2,614.0 L135.0,613.1 L133.8,612.0 L132.7,610.9 L131.7,609.6 L130.7,608.2 L129.8,606.6 L128.9,605.0 L128.2,603.3 L127.5,601.4 L127.0,599.6 L126.5,597.6 L126.2,595.6 L126.0,593.6 L125.8,591.5 L125.8,589.5 L125.9,587.4 L126.1,585.4 L126.4,583.3 L126.8,581.4 L127.3,579.5 L127.9,577.6 L128.6,575.8 L129.3,574.1 L130.2,572.6" style="stroke-width:4.4;stroke:#5a5a5a;stroke-linecap:butt"/>
<path class="n" d="M142.0,610.0 L141.1,609.8 L140.2,609.5 L139.3,609.0 L138.5,608.5 L137.7,607.8 L136.9,607.0 L136.1,606.1 L135.4,605.1 L134.8,604.0 L134.1,602.8 L133.6,601.5 L133.1,600.2 L132.7,598.8 L132.3,597.4 L132.0,595.9 L131.8,594.3 L131.6,592.8 L131.5,591.2 L131.5,589.6 L131.6,588.0 L131.7,586.4 L131.9,584.9 L132.1,583.4 L132.5,581.9 L132.9,580.5 L133.3,579.1 L133.9,577.8 L134.5,576.6" style="stroke-width:6.1000000000000005;stroke:#141414;stroke-linecap:butt"/>
<path class="n" d="M142.0,610.0 L141.1,609.8 L140.2,609.5 L139.3,609.0 L138.5,608.5 L137.7,607.8 L136.9,607.0 L136.1,606.1 L135.4,605.1 L134.8,604.0 L134.1,602.8 L133.6,601.5 L133.1,600.2 L132.7,598.8 L132.3,597.4 L132.0,595.9 L131.8,594.3 L131.6,592.8 L131.5,591.2 L131.5,589.6 L131.6,588.0 L131.7,586.4 L131.9,584.9 L132.1,583.4 L132.5,581.9 L132.9,580.5 L133.3,579.1 L133.9,577.8 L134.5,576.6" style="stroke-width:4.4;stroke:#555;stroke-linecap:butt"/>
<path class="n" d="M142.5,604.0 L142.0,603.9 L141.6,603.7 L141.1,603.4 L140.7,603.0 L140.3,602.5 L139.9,601.9 L139.5,601.3 L139.2,600.6 L138.8,599.8 L138.5,599.0 L138.3,598.1 L138.0,597.2 L137.8,596.2 L137.6,595.2 L137.5,594.1 L137.3,593.0 L137.3,591.9 L137.2,590.8 L137.2,589.7 L137.2,588.6 L137.3,587.5 L137.4,586.4 L137.5,585.3 L137.7,584.3 L137.9,583.3 L138.1,582.3 L138.4,581.4 L138.7,580.6" style="stroke-width:6.1000000000000005;stroke:#141414;stroke-linecap:butt"/>
<path class="n" d="M142.5,604.0 L142.0,603.9 L141.6,603.7 L141.1,603.4 L140.7,603.0 L140.3,602.5 L139.9,601.9 L139.5,601.3 L139.2,600.6 L138.8,599.8 L138.5,599.0 L138.3,598.1 L138.0,597.2 L137.8,596.2 L137.6,595.2 L137.5,594.1 L137.3,593.0 L137.3,591.9 L137.2,590.8 L137.2,589.7 L137.2,588.6 L137.3,587.5 L137.4,586.4 L137.5,585.3 L137.7,584.3 L137.9,583.3 L138.1,582.3 L138.4,581.4 L138.7,580.6" style="stroke-width:4.4;stroke:#5a5a5a;stroke-linecap:butt"/>
<path class="d" d="M140.9,488.5 L168.5,482.7 Q186,487.5 205.3,507 Q225,527 237.1,551 Q247,576 248.8,602 Q248,630 238.8,640 Q230,651 223.7,655.3 L210.3,665.3 L202,671.2 L193.6,667 L186,676 L156,686 L143.4,678 L139.4,668 Z" />
<polygon class="m" points="141.4,489.5 146.7,492.5 146.7,664.0 141.4,667.0" style="stroke-width:0.6;fill:#6e6e6e"/>
<line class="ng" x1="146.7" y1="492.0" x2="146.7" y2="664.0" />
<line class="n" x1="151.0" y1="497.0" x2="151.0" y2="650.0" style="stroke-width:0.7"/>
<polygon class="m" points="140.9,488.5 146.7,492.0 146.7,500.0 151.0,504.0 151.0,497.0" style="stroke-width:0.5"/>
<polygon class="d" points="146.7,511.0 151.0,514.0 161.0,514.0 161.5,522.0 151.5,523.0 146.7,526.0" style="stroke-width:0.8"/>
<polygon class="m" points="146.7,511.0 151.0,514.0 151.5,523.0 146.7,526.0" style="stroke-width:0.5"/>
<polygon class="d" points="146.7,585.0 151.0,588.0 161.0,588.0 161.5,596.0 151.5,597.0 146.7,600.0" style="stroke-width:0.8"/>
<polygon class="m" points="146.7,585.0 151.0,588.0 151.5,597.0 146.7,600.0" style="stroke-width:0.5"/>
<path class="nl" d="M171,516 Q215,535 242,584" style="stroke-width:1.5;stroke:#d0d0d0"/>
<path class="nl" d="M170,514.5 Q214,532 243,582" style="stroke-width:0.7"/>
<polygon class="vl" points="161.3,490.2 163.3,488.2 165.3,490.2 163.3,492.2" style="stroke-width:0.5"/>
<polygon class="vl" points="161.5,503.0 163.5,501.0 165.5,503.0 163.5,505.0" style="stroke-width:0.5"/>
<polygon class="vl" points="188.5,516.3 190.5,514.3 192.5,516.3 190.5,518.3" style="stroke-width:0.5"/>
<polygon class="l" points="180.9,585.8 177.5,572.9 186.6,568.1 195.3,578.3 205.8,578.4 214.9,568.0 224.0,573.0 220.1,586.2 226.3,596.2 243.2,598.1 243.6,609.4 226.9,612.5 220.4,624.1 224.8,637.6 215.7,642.8 206.3,632.1 194.3,632.1 184.9,642.8 175.8,637.6 180.2,624.1 173.7,612.4 160.2,608.9 160.6,598.5 174.4,596.1" style="stroke-width:0.8"/>
<circle class="l" cx="200.3" cy="605.3" r="22.6" style="stroke-width:1.1"/>
<circle class="n" cx="200.3" cy="605.3" r="20.6" style="stroke-width:0.8"/>
<ellipse class="vl" cx="201.0" cy="591.5" rx="2.6" ry="1.8" style="stroke-width:0.5;fill:#ececec"/>
<ellipse class="vl" cx="187.5" cy="614.0" rx="2.6" ry="1.8" style="stroke-width:0.5;fill:#ececec"/>
<ellipse class="vl" cx="214.0" cy="614.0" rx="2.6" ry="1.8" style="stroke-width:0.5;fill:#ececec"/>
<path class="n" d="M192.5,633.5 Q200,637.5 208.5,633.8" style="stroke-width:1.6"/>
<circle class="d" cx="205.5" cy="656.0" r="1.6" style="stroke-width:0.6"/>
<polyline class="n" points="208.5,664.0 216.0,659.5" style="stroke-width:3;stroke:#111"/>
<path class="m" d="M145,657 Q147,650 153.4,648.6 L185.2,645.2 Q193,647 194.4,652 L192.8,668.7 Q190,675 185.2,678.7 L155.1,685.4 Q147,683 143.4,677Z" style="fill:#747474"/>
<path class="nl" d="M146,660 Q148.5,653 154.5,651.5 L185,648.2 Q191,650 192.2,654" style="stroke-width:1.2"/>
<path class="n" d="M144.5,679.5 Q149,685.5 155.6,687.6 L186,681 Q191.5,677.5 194,670" style="stroke-width:0.9"/>
<line class="n" x1="155.0" y1="656.5" x2="155.0" y2="676.0" style="stroke-width:2.4;stroke:#222"/>
<line class="nl" x1="155.0" y1="657.5" x2="155.0" y2="675.0" style="stroke-width:0.8"/>
<circle class="k" cx="155.5" cy="666.0" r="2.3" />
<line class="n" x1="179.5" y1="653.6" x2="179.5" y2="671.1" style="stroke-width:2.4;stroke:#222"/>
<line class="nl" x1="179.5" y1="654.6" x2="179.5" y2="670.1" style="stroke-width:0.8"/>
<circle class="k" cx="180.0" cy="662.1" r="2.3" />
</g>
<g id="p_wheel">
<path class="dd" d="M424.0,498.0 C422.3,498.8 416.6,499.3 414.0,503.0 C411.4,506.7 409.6,513.0 408.5,520.0 C407.4,527.0 407.1,537.5 407.5,545.0 C407.9,552.5 409.1,559.7 411.0,565.0 C412.9,570.3 416.8,574.8 419.0,577.0 C421.2,579.2 423.2,577.8 424.0,578.0 Z" style="stroke-width:0.9"/>
<polygon class="d" points="412.0,503.0 420.0,501.5 422.0,507.0 414.0,509.0" style="stroke-width:0.8"/>
<polygon class="m" points="419.0,504.0 425.0,502.5 426.0,507.5 421.0,509.0" style="stroke-width:0.7"/>
<polygon class="d" points="410.0,511.0 418.0,509.5 420.0,515.0 412.0,517.0" style="stroke-width:0.8"/>
<polygon class="m" points="417.0,512.0 423.0,510.5 424.0,515.5 419.0,517.0" style="stroke-width:0.7"/>
<polygon class="d" points="408.4,519.0 416.4,517.5 418.4,523.0 410.4,525.0" style="stroke-width:0.8"/>
<polygon class="m" points="415.4,520.0 421.4,518.5 422.4,523.5 417.4,525.0" style="stroke-width:0.7"/>
<polygon class="d" points="407.4,527.0 415.4,525.5 417.4,531.0 409.4,533.0" style="stroke-width:0.8"/>
<polygon class="m" points="414.4,528.0 420.4,526.5 421.4,531.5 416.4,533.0" style="stroke-width:0.7"/>
<polygon class="d" points="407.0,535.0 415.0,533.5 417.0,539.0 409.0,541.0" style="stroke-width:0.8"/>
<polygon class="m" points="414.0,536.0 420.0,534.5 421.0,539.5 416.0,541.0" style="stroke-width:0.7"/>
<polygon class="d" points="407.4,543.0 415.4,541.5 417.4,547.0 409.4,549.0" style="stroke-width:0.8"/>
<polygon class="m" points="414.4,544.0 420.4,542.5 421.4,547.5 416.4,549.0" style="stroke-width:0.7"/>
<polygon class="d" points="408.4,551.0 416.4,549.5 418.4,555.0 410.4,557.0" style="stroke-width:0.8"/>
<polygon class="m" points="415.4,552.0 421.4,550.5 422.4,555.5 417.4,557.0" style="stroke-width:0.7"/>
<polygon class="d" points="410.0,559.0 418.0,557.5 420.0,563.0 412.0,565.0" style="stroke-width:0.8"/>
<polygon class="m" points="417.0,560.0 423.0,558.5 424.0,563.5 419.0,565.0" style="stroke-width:0.7"/>
<polygon class="d" points="412.0,567.0 420.0,565.5 422.0,571.0 414.0,573.0" style="stroke-width:0.8"/>
<polygon class="m" points="419.0,568.0 425.0,566.5 426.0,571.5 421.0,573.0" style="stroke-width:0.7"/>
<polygon class="m" points="423.4,506.7 436.0,504.2 437.0,515.0 436.5,584.0 422.6,577.5" style="fill:#8f8f8f"/>
<ellipse class="k" cx="427.5" cy="513.0" rx="1.5" ry="2.0" />
<ellipse class="k" cx="427.5" cy="528.0" rx="1.5" ry="2.0" />
<ellipse class="k" cx="427.5" cy="567.0" rx="1.5" ry="2.0" />
<polygon class="l" points="436.0,504.2 467.0,526.8 467.8,601.3 436.5,584.0" style="fill:#9a9a9a"/>
<polygon class="d" points="436.0,504.2 470.0,500.0 500.0,514.0 502.0,523.5 467.0,526.8" style="stroke-width:0.8"/>
<polyline class="n" points="447.0,507.0 482.0,524.0" style="stroke-width:2.2;stroke:#0d0d0d"/>
<polyline class="nl" points="455.0,505.0 490.0,522.5" style="stroke-width:0.9"/>
<ellipse class="d" cx="450.2" cy="541.9" rx="16.3" ry="27.6" transform="rotate(-4 450.2 541.9)" style="stroke-width:1.2"/>
<ellipse class="l" cx="451.0" cy="541.9" rx="14.0" ry="25.0" transform="rotate(-4 451.0 541.9)" style="stroke-width:1.0"/>
<ellipse class="n" cx="449.5" cy="541.5" rx="11.5" ry="21.5" transform="rotate(-4 449.5 541.5)" style="stroke-width:0.7"/>
<ellipse class="d" cx="443.0" cy="539.0" rx="7.5" ry="11.5" transform="rotate(-8 443.0 539.0)" style="stroke-width:1"/>
<ellipse class="m" cx="441.8" cy="539.0" rx="5.6" ry="8.8" transform="rotate(-8 441.8 539.0)" style="stroke-width:0.8"/>
<ellipse class="l" cx="440.8" cy="539.0" rx="3.5" ry="5.6" transform="rotate(-8 440.8 539.0)" style="stroke-width:0.7"/>
<ellipse class="d" cx="440.3" cy="539.0" rx="1.8" ry="2.8" transform="rotate(-8 440.3 539.0)" style="stroke-width:0.6"/>
<line class="n" x1="448.0" y1="506.0" x2="452.0" y2="560.0" style="stroke-width:1.1"/>
<polygon class="m" points="424.0,577.0 430.0,573.5 467.0,591.0 467.8,601.3" style="stroke-width:0.8"/>
<polyline class="nl" points="432.0,572.0 467.0,588.0" style="stroke-width:1.2"/>
<polyline class="n" points="455.0,581.0 459.0,588.0" style="stroke-width:1.4"/>
<polygon class="dd" points="453.0,575.0 467.0,579.0 467.0,587.0 455.0,583.0" style="stroke-width:0.7"/>
<polygon class="d" points="467.0,526.8 502.0,523.5 530.0,520.0 540.0,560.0 520.0,590.0 500.4,593.8 483.7,598.8 467.8,601.3" />
<line class="ng" x1="470.0" y1="529.0" x2="470.5" y2="599.0" />
<ellipse class="vl" cx="472.5" cy="537.0" rx="1.5" ry="2.0" style="stroke-width:0.6"/>
<ellipse class="vl" cx="472.5" cy="552.5" rx="1.5" ry="2.0" style="stroke-width:0.6"/>
<ellipse class="vl" cx="472.5" cy="591.5" rx="1.5" ry="2.0" style="stroke-width:0.6"/>
<ellipse class="vl" cx="485.0" cy="534.0" rx="1.5" ry="2.0" style="stroke-width:0.6"/>
<ellipse class="vl" cx="481.0" cy="597.0" rx="1.5" ry="2.0" style="stroke-width:0.6"/>
<polyline class="n" points="471.0,584.5 479.0,583.5" style="stroke-width:1.6"/>
<path class="dd" d="M587.0,511.6 C583.0,511.8 571.8,511.5 563.0,512.7 C554.2,513.9 542.2,515.3 534.0,519.0 C525.8,522.7 519.2,529.5 514.0,535.0 C508.8,540.5 505.9,546.2 503.0,552.0 C500.1,557.8 497.5,564.0 496.6,570.0 C495.7,576.0 496.2,582.1 497.7,588.0 C499.2,593.9 501.6,599.7 505.5,605.5 C509.4,611.3 515.5,618.2 521.0,623.0 C526.5,627.8 532.8,631.1 538.6,634.0 C544.4,636.9 550.4,640.5 556.0,640.5 C561.6,640.5 569.3,635.1 572.0,634.0 Z" style="stroke-width:0.9"/>
<polygon class="l" points="550.8,628.5 543.9,627.5 531.7,624.4 538.7,625.4" style="stroke-width:0.8;fill:#a6a6a6"/>
<polygon class="l" points="553.6,631.0 547.0,628.7 535.1,624.9 541.7,627.2" style="stroke-width:0.8;fill:#8e8e8e"/>
<polygon class="l" points="539.5,626.5 532.9,624.3 528.5,623.0 535.1,625.3" style="stroke-width:0.8;fill:#a6a6a6"/>
<polygon class="l" points="542.8,626.9 536.7,623.5 532.1,622.9 538.2,626.4" style="stroke-width:0.8;fill:#8e8e8e"/>
<polygon class="l" points="536.0,625.7 529.9,622.3 518.2,617.8 524.3,621.2" style="stroke-width:0.8;fill:#a6a6a6"/>
<polygon class="l" points="546.7,626.0 541.3,621.6 536.2,621.6 541.6,626.1" style="stroke-width:0.8;fill:#a6a6a6"/>
<polygon class="l" points="539.4,625.4 534.0,621.0 522.8,615.9 528.2,620.4" style="stroke-width:0.8;fill:#8e8e8e"/>
<polygon class="l" points="526.0,619.7 520.6,615.3 515.5,615.3 521.0,619.7" style="stroke-width:0.8;fill:#a6a6a6"/>
<polygon class="l" points="543.5,623.8 538.9,618.5 528.1,613.0 532.7,618.3" style="stroke-width:0.8;fill:#a6a6a6"/>
<polygon class="l" points="530.5,617.6 525.9,612.4 520.4,612.9 525.0,618.1" style="stroke-width:0.8;fill:#8e8e8e"/>
<polygon class="l" points="522.8,617.5 518.2,612.2 507.4,606.7 512.0,612.0" style="stroke-width:0.8;fill:#a6a6a6"/>
<polygon class="l" points="535.9,614.5 532.2,608.6 526.1,609.5 529.8,615.4" style="stroke-width:0.8;fill:#a6a6a6"/>
<polygon class="l" points="527.7,614.7 523.9,608.8 513.7,602.9 517.4,608.8" style="stroke-width:0.8;fill:#8e8e8e"/>
<polygon class="l" points="515.2,608.2 511.5,602.2 505.4,603.1 509.2,609.1" style="stroke-width:0.8;fill:#a6a6a6"/>
<polygon class="l" points="533.4,611.0 530.6,604.6 520.9,598.4 523.7,604.8" style="stroke-width:0.8;fill:#a6a6a6"/>
<polygon class="l" points="521.5,604.2 518.7,597.8 512.1,598.9 514.9,605.4" style="stroke-width:0.8;fill:#8e8e8e"/>
<polygon class="l" points="512.7,604.7 510.0,598.3 500.2,592.1 503.0,598.5" style="stroke-width:0.8;fill:#a6a6a6"/>
<polygon class="l" points="528.8,599.5 527.0,592.7 519.9,594.1 521.7,600.8" style="stroke-width:0.8;fill:#a6a6a6"/>
<polygon class="l" points="519.5,600.2 517.7,593.4 508.5,587.0 510.3,593.8" style="stroke-width:0.8;fill:#8e8e8e"/>
<polygon class="l" points="508.1,593.1 506.3,586.4 499.2,587.7 501.0,594.5" style="stroke-width:0.8;fill:#a6a6a6"/>
<polygon class="l" points="527.4,595.1 526.6,588.1 517.9,581.6 518.8,588.6" style="stroke-width:0.8;fill:#a6a6a6"/>
<polygon class="l" points="516.6,587.9 515.7,581.0 508.1,582.4 508.9,589.4" style="stroke-width:0.8;fill:#8e8e8e"/>
<polygon class="l" points="506.8,588.7 505.9,581.8 497.2,575.3 498.1,582.3" style="stroke-width:0.8;fill:#a6a6a6"/>
<polygon class="l" points="526.2,582.4 526.3,575.4 518.1,576.9 518.0,583.9" style="stroke-width:0.8;fill:#a6a6a6"/>
<polygon class="l" points="515.8,583.2 515.9,576.2 507.8,569.7 507.7,576.7" style="stroke-width:0.8;fill:#8e8e8e"/>
<polygon class="l" points="505.6,576.1 505.6,569.1 497.4,570.6 497.3,577.6" style="stroke-width:0.8;fill:#a6a6a6"/>
<polygon class="l" points="526.1,577.6 527.1,570.7 519.5,564.2 518.5,571.1" style="stroke-width:0.8;fill:#a6a6a6"/>
<polygon class="l" points="516.3,570.5 517.4,563.5 508.6,565.0 507.6,571.9" style="stroke-width:0.8;fill:#8e8e8e"/>
<polygon class="l" points="505.4,571.3 506.5,564.3 498.9,557.9 497.9,564.8" style="stroke-width:0.8;fill:#a6a6a6"/>
<polygon class="l" points="528.3,565.0 530.2,558.3 521.0,559.6 519.0,566.3" style="stroke-width:0.8;fill:#a6a6a6"/>
<polygon class="l" points="516.9,565.7 518.8,559.0 511.7,552.6 509.8,559.3" style="stroke-width:0.8;fill:#8e8e8e"/>
<polygon class="l" points="507.6,558.7 509.6,551.9 500.3,553.3 498.4,560.0" style="stroke-width:0.8;fill:#a6a6a6"/>
<polygon class="l" points="529.4,560.4 532.3,554.0 525.7,547.8 522.9,554.2" style="stroke-width:0.8;fill:#a6a6a6"/>
<polygon class="l" points="520.7,553.5 523.5,547.1 513.8,548.3 510.9,554.7" style="stroke-width:0.8;fill:#8e8e8e"/>
<polygon class="l" points="508.8,554.0 511.6,547.6 505.0,541.5 502.2,547.9" style="stroke-width:0.8;fill:#a6a6a6"/>
<polygon class="l" points="534.8,549.0 538.5,543.0 528.3,543.9 524.6,549.9" style="stroke-width:0.8;fill:#a6a6a6"/>
<polygon class="l" points="522.4,549.2 526.1,543.3 520.0,537.3 516.3,543.3" style="stroke-width:0.8;fill:#8e8e8e"/>
<polygon class="l" points="514.2,542.6 517.9,536.7 507.6,537.6 503.9,543.5" style="stroke-width:0.8;fill:#a6a6a6"/>
<polygon class="l" points="537.0,545.0 541.5,539.7 535.9,534.1 531.4,539.5" style="stroke-width:0.8;fill:#a6a6a6"/>
<polygon class="l" points="529.3,538.8 533.8,533.4 523.0,534.0 518.5,539.4" style="stroke-width:0.8;fill:#8e8e8e"/>
<polygon class="l" points="516.4,538.7 520.9,533.3 515.3,527.8 510.8,533.1" style="stroke-width:0.8;fill:#a6a6a6"/>
<polygon class="l" points="545.2,535.8 550.4,531.2 539.3,531.4 534.0,536.0" style="stroke-width:0.8;fill:#a6a6a6"/>
<polygon class="l" points="531.8,535.3 537.1,530.7 531.9,525.5 526.7,530.2" style="stroke-width:0.8;fill:#8e8e8e"/>
<polygon class="l" points="524.5,529.5 529.8,524.9 518.6,525.0 513.3,529.7" style="stroke-width:0.8;fill:#a6a6a6"/>
<polygon class="l" points="548.1,532.9 554.0,529.2 549.2,524.5 543.3,528.3" style="stroke-width:0.8;fill:#a6a6a6"/>
<polygon class="l" points="541.1,527.6 547.0,523.9 535.5,523.5 529.6,527.2" style="stroke-width:0.8;fill:#8e8e8e"/>
<polygon class="l" points="527.4,526.6 533.3,522.8 528.5,518.2 522.6,521.9" style="stroke-width:0.8;fill:#a6a6a6"/>
<polygon class="l" points="558.3,526.9 564.7,524.2 552.9,523.2 546.4,525.9" style="stroke-width:0.8;fill:#a6a6a6"/>
<polygon class="l" points="544.3,525.3 550.7,522.5 546.2,518.5 539.8,521.2" style="stroke-width:0.8;fill:#8e8e8e"/>
<polygon class="l" points="537.6,520.5 544.1,517.8 532.2,516.9 525.8,519.6" style="stroke-width:0.8;fill:#a6a6a6"/>
<polygon class="l" points="561.6,525.1 568.4,523.6 564.2,520.2 557.3,521.7" style="stroke-width:0.8;fill:#a6a6a6"/>
<polygon class="l" points="555.2,521.1 562.0,519.5 549.9,517.9 543.1,519.5" style="stroke-width:0.8;fill:#8e8e8e"/>
<polygon class="l" points="540.9,518.8 547.8,517.2 543.5,513.9 536.7,515.4" style="stroke-width:0.8;fill:#a6a6a6"/>
<polygon class="l" points="572.9,522.9 579.9,522.6 567.8,520.3 560.8,520.6" style="stroke-width:0.8;fill:#a6a6a6"/>
<polygon class="l" points="558.6,519.9 565.6,519.6 561.4,517.0 554.4,517.3" style="stroke-width:0.8;fill:#8e8e8e"/>
<polygon class="l" points="552.3,516.6 559.3,516.3 547.1,514.0 540.1,514.3" style="stroke-width:0.8;fill:#a6a6a6"/>
<polygon class="l" points="570.1,519.8 577.0,520.8 564.9,517.7 558.0,516.7" style="stroke-width:0.8;fill:#8e8e8e"/>
<polygon class="l" points="555.8,516.1 562.7,517.1 558.5,515.1 551.6,514.1" style="stroke-width:0.8;fill:#a6a6a6"/>
<polygon class="l" points="573.6,519.9 580.3,522.2 575.9,521.0 569.2,518.7" style="stroke-width:0.8;fill:#8e8e8e"/>
<polygon class="l" points="567.1,518.1 573.7,520.3 561.8,516.5 555.1,514.3" style="stroke-width:0.8;fill:#a6a6a6"/>
<polygon class="l" points="570.6,518.9 576.7,522.3 572.0,521.7 565.9,518.3" style="stroke-width:0.8;fill:#a6a6a6"/>
<polygon class="l" points="577.4,523.2 577.6,515.7 585.0,516.3 583.9,523.7" style="stroke-width:0.8"/>
<polygon class="l" points="586.9,524.3 588.5,516.9 595.6,519.2 593.1,526.2" style="stroke-width:0.8"/>
<polygon class="l" points="595.9,527.5 598.8,520.7 605.3,524.5 601.5,530.9" style="stroke-width:0.8"/>
<polygon class="l" points="604.0,532.9 608.2,526.7 613.8,532.1 608.9,537.6" style="stroke-width:0.8"/>
<polygon class="l" points="611.0,540.1 616.2,534.9 620.8,541.5 615.0,545.8" style="stroke-width:0.8"/>
<polygon class="l" points="616.6,548.8 622.6,544.8 625.9,552.4 619.4,555.5" style="stroke-width:0.8"/>
<polygon class="l" points="620.5,558.8 627.1,556.2 629.0,564.4 622.1,566.0" style="stroke-width:0.8"/>
<polygon class="l" points="622.6,569.6 629.5,568.4 629.9,576.9 622.9,577.1" style="stroke-width:0.8"/>
<polygon class="l" points="622.8,580.7 629.8,581.0 628.7,589.6 621.8,588.3" style="stroke-width:0.8"/>
<polygon class="l" points="621.0,591.8 627.8,593.6 625.3,601.8 618.8,599.0" style="stroke-width:0.8"/>
<polygon class="l" points="617.5,602.4 623.7,605.6 619.8,613.1 614.1,609.0" style="stroke-width:0.8"/>
<polygon class="l" points="612.2,612.0 617.7,616.5 612.6,623.1 607.8,617.8" style="stroke-width:0.8"/>
<polygon class="l" points="605.4,620.3 610.0,625.9 603.9,631.2 600.2,625.0" style="stroke-width:0.8"/>
<polygon class="l" points="597.5,627.0 600.8,633.4 594.1,637.3 591.5,630.4" style="stroke-width:0.8"/>
<polygon class="l" points="588.6,631.7 590.7,638.8 583.4,641.1 582.3,633.7" style="stroke-width:0.8"/>
<polygon class="l" points="579.2,634.3 579.9,641.7 572.5,642.3 572.7,634.8" style="stroke-width:0.8"/>
<polygon class="l" points="569.6,634.7 568.9,642.2 561.6,641.0 563.3,633.7" style="stroke-width:0.8"/>
<polygon class="l" points="560.3,632.8 558.2,640.0 551.3,637.2 554.3,630.4" style="stroke-width:0.8"/>
<polygon class="l" points="551.6,628.8 548.2,635.5 542.0,631.1 546.2,625.0" style="stroke-width:0.8"/>
<polygon class="l" points="543.8,622.8 539.2,628.6 534.0,622.9 539.2,617.7" style="stroke-width:0.8"/>
<ellipse class="d" cx="575.2" cy="579.0" rx="47.5" ry="56.0" transform="rotate(9 575.2 579.0)" style="stroke-width:1.1;fill:#646464"/>
<ellipse class="n" cx="575.2" cy="579.0" rx="42.5" ry="50.0" transform="rotate(9 575.2 579.0)" style="stroke-width:1.3;stroke:#b4b4b4"/>
<ellipse class="n" cx="575.2" cy="579.0" rx="43.9" ry="51.6" transform="rotate(9 575.2 579.0)" style="stroke-width:0.6"/>
<ellipse class="l" cx="574.6" cy="578.3" rx="32.8" ry="36.5" transform="rotate(8 574.6 578.3)" style="stroke-width:1.2"/>
<ellipse class="d" cx="565.8" cy="575.0" rx="22.0" ry="27.0" transform="rotate(6 565.8 575.0)" style="stroke-width:1;fill:#6b6b6b"/>
<path class="nl" d="M569,549.5 Q582,551 586.5,566" style="stroke-width:1.6"/>
<circle class="l" cx="565.8" cy="575.8" r="11.0" style="stroke-width:1.1"/>
<circle class="d" cx="565.8" cy="575.8" r="8.2" style="stroke-width:0.8"/>
<circle class="vl" cx="572.2" cy="577.5" r="1.7" style="stroke-width:0.5"/>
<circle class="vl" cx="567.5" cy="582.2" r="1.7" style="stroke-width:0.5"/>
<circle class="vl" cx="561.1" cy="580.5" r="1.7" style="stroke-width:0.5"/>
<circle class="vl" cx="559.4" cy="574.1" r="1.7" style="stroke-width:0.5"/>
<circle class="vl" cx="564.1" cy="569.4" r="1.7" style="stroke-width:0.5"/>
<circle class="vl" cx="570.5" cy="571.1" r="1.7" style="stroke-width:0.5"/>
<circle class="l" cx="568.2" cy="577.3" r="3.6" style="stroke-width:0.9"/>
<circle class="vl" cx="568.7" cy="577.6" r="1.6" style="stroke-width:0.5"/>
</g>
<g id="p_engine">
<polygon class="d" points="444.0,492.0 470.0,498.0 540.0,497.0 560.0,503.0 545.0,522.0 467.0,527.0 436.0,505.0" style="stroke-width:0.8"/>
<polygon class="d" points="459.0,425.0 498.0,413.0 498.0,464.0 459.0,442.0" style="stroke:none"/>
<polygon class="d" points="541.0,497.0 566.0,488.0 577.0,497.0 574.0,510.0 560.0,515.0 545.0,520.0" style="stroke-width:0.8"/>
<polyline class="nl" points="548.0,503.0 570.0,496.0" style="stroke-width:0.8"/>
<polygon class="d" points="452.0,428.0 498.0,440.0 524.0,470.0 566.0,466.0 568.0,483.6 556.0,492.0 541.0,497.0 534.4,507.2 520.0,512.0 499.0,517.0 480.0,514.0 462.0,502.0 450.0,492.0 446.0,470.0" />
<path class="m" d="M443.8,431 L459,436 L459,458 L443.8,457.5Z" style="stroke-width:0.8"/>
<ellipse class="m" cx="443.8" cy="444.2" rx="4.6" ry="13.0" />
<circle class="k" cx="442.5" cy="437.0" r="1.2" />
<circle class="k" cx="442.5" cy="452.0" r="1.2" />
<path class="n" d="M444,431 Q446,421 458,419.5" style="stroke-width:1.6;stroke:#333"/>
<ellipse class="d" cx="459.5" cy="446.5" rx="4.5" ry="12.0" style="stroke-width:0.8"/>
<polygon class="d" points="461.0,440.0 480.0,446.0 497.0,457.0 500.0,480.0 490.0,498.0 470.0,500.0 458.0,486.0" style="stroke-width:0.9"/>
<polygon class="m" points="463.0,449.0 478.0,452.0 484.0,462.0 478.0,470.0 465.0,466.0" style="stroke-width:0.8"/>
<circle class="m" cx="468.5" cy="437.5" r="2.0" style="stroke-width:0.7"/>
<ellipse class="d" cx="470.0" cy="470.0" rx="9.5" ry="14.0" transform="rotate(-12 470.0 470.0)" />
<ellipse class="l" cx="468.5" cy="470.0" rx="8.0" ry="12.5" transform="rotate(-12 468.5 470.0)" style="stroke-width:0.9"/>
<ellipse class="d" cx="466.5" cy="470.0" rx="6.0" ry="10.5" transform="rotate(-12 466.5 470.0)" style="stroke-width:0.9"/>
<ellipse class="m" cx="462.0" cy="470.5" rx="6.5" ry="9.5" transform="rotate(-12 462.0 470.5)" style="stroke-width:0.9"/>
<ellipse class="l" cx="460.0" cy="471.0" rx="5.0" ry="7.5" transform="rotate(-12 460.0 471.0)" style="stroke-width:0.8"/>
<polygon class="m" points="447.0,466.0 463.0,463.5 463.5,478.0 447.5,481.0" style="stroke-width:0.8"/>
<ellipse class="d" cx="447.5" cy="474.0" rx="7.6" ry="11.2" transform="rotate(-10 447.5 474.0)" />
<ellipse class="l" cx="445.8" cy="474.0" rx="6.4" ry="9.8" transform="rotate(-10 445.8 474.0)" style="stroke-width:0.9"/>
<ellipse class="d" cx="444.5" cy="474.2" rx="4.6" ry="7.4" transform="rotate(-10 444.5 474.2)" style="stroke-width:0.9"/>
<ellipse class="l" cx="443.6" cy="474.4" rx="2.6" ry="4.4" transform="rotate(-10 443.6 474.4)" style="stroke-width:0.7"/>
<ellipse class="d" cx="436.5" cy="487.6" rx="7.4" ry="12.6" transform="rotate(-10 436.5 487.6)" />
<ellipse class="l" cx="434.6" cy="487.8" rx="6.2" ry="11.0" transform="rotate(-10 434.6 487.8)" style="stroke-width:0.9"/>
<ellipse class="d" cx="433.4" cy="488.0" rx="4.6" ry="8.6" transform="rotate(-10 433.4 488.0)" style="stroke-width:0.9"/>
<ellipse class="l" cx="432.6" cy="488.2" rx="2.6" ry="5.0" transform="rotate(-10 432.6 488.2)" style="stroke-width:0.7"/>
<circle class="k" cx="432.4" cy="488.2" r="1.2" />
<line class="n" x1="442.5" y1="497.0" x2="443.0" y2="520.0" style="stroke-width:1.4"/>
<line class="ng" x1="438.5" y1="500.0" x2="439.0" y2="512.0" />
<polygon class="m" points="498.0,480.0 512.0,477.5 524.0,483.0 524.0,490.0 500.0,493.0" style="stroke-width:0.8"/>
<polygon class="m" points="503.0,493.0 534.0,488.0 540.0,497.0 534.4,507.2 520.0,512.0 499.0,517.0 497.0,506.0" style="stroke-width:0.9;fill:#6d6d6d"/>
<polyline class="nl" points="499.0,509.0 520.0,505.5 536.0,501.5" style="stroke-width:0.8"/>
<polyline class="n" points="516.0,489.0 516.5,507.0" style="stroke-width:0.8"/>
<polyline class="n" points="530.0,487.5 531.0,503.5" style="stroke-width:0.8"/>
<path class="n" d="M497.5,484 Q492,490 496,497 Q500,499 502,494" style="stroke-width:1.4"/>
<circle class="l" cx="512.0" cy="468.5" r="2.4" style="stroke-width:0.8"/>
<polygon class="d" points="541.0,497.0 556.0,470.0 566.0,466.0 582.0,478.8 568.0,484.0 553.0,500.0 545.0,506.0" style="stroke-width:0.9"/>
<polygon class="dd" points="568.0,470.5 573.8,473.8 581.6,479.7 590.4,468.8 597.4,464.0 590.0,463.0" style="stroke-width:0.8"/>
<path class="d" d="M447.7,398.5 L449.5,408 Q452,420 459.5,430.4 L485,442.3 L495.2,427 L497.3,416.7 L470,412 Z" />
<path class="n" d="M452.5,404 Q455,419 462,427.5 L483.5,437.5 L491.5,425.5 L492.5,420" style="stroke-width:0.8"/>
<polygon class="d" points="453.8,379.4 457.0,376.5 468.3,374.1 489.3,371.5 526.0,369.0 547.0,376.8 562.8,386.0 564.0,392.5 515.5,401.7 498.5,408.3 497.2,418.8 478.8,416.2 451.2,400.4 447.5,398.5 448.0,394.5 452.5,390.0" />
<polyline class="n" points="448.0,394.5 479.0,409.5 497.5,411.0" style="stroke-width:1.1"/>
<polyline class="ng" points="452.5,390.0 456.5,381.0 468.0,378.0" />
<polyline class="ng" points="462.0,381.5 459.5,398.5" />
<polyline class="ng" points="468.5,381.0 467.0,403.0" />
<polyline class="ng" points="475.5,383.5 475.0,407.5" />
<path class="ng" d="M476,383.5 Q486,388 498.5,396 L498.5,408.3" />
<polygon class="m" points="498.5,396.0 560.5,383.2 563.5,386.3 564.0,392.5 515.5,401.7 498.5,408.3" style="stroke-width:0.8;fill:#6a6a6a"/>
<polyline class="nl" points="499.0,399.5 562.5,387.5" style="stroke-width:0.8"/>
<path class="n" d="M489,377 Q506,386 517,399 L523,408" style="stroke-width:1"/>
<ellipse class="dd" cx="510.4" cy="379.0" rx="15.5" ry="6.0" style="stroke-width:0.8"/>
<path class="d" d="M496.4,369.5 L496.4,377.5 A14,5.6 0 0 0 524.4,377.5 L524.4,369.5 Z" />
<ellipse class="d" cx="510.4" cy="369.5" rx="14.0" ry="5.6" />
<ellipse class="m" cx="510.4" cy="369.5" rx="10.9" ry="4.1" style="stroke-width:0.8"/>
<ellipse class="d" cx="510.4" cy="369.5" rx="7.0" ry="2.7" style="stroke-width:0.8"/>
<line class="nl" x1="500.3" y1="374.5" x2="500.3" y2="381.4" style="stroke-width:0.8"/>
<line class="n" x1="505.4" y1="374.5" x2="505.4" y2="381.4" style="stroke-width:0.8"/>
<line class="nl" x1="510.4" y1="374.5" x2="510.4" y2="381.4" style="stroke-width:0.8"/>
<line class="n" x1="515.4" y1="374.5" x2="515.4" y2="381.4" style="stroke-width:0.8"/>
<line class="nl" x1="520.5" y1="374.5" x2="520.5" y2="381.4" style="stroke-width:0.8"/>
<ellipse class="dd" cx="475.4" cy="384.0" rx="10.0" ry="4.2" style="stroke-width:0.8"/>
<path class="d" d="M466.79999999999995,375.5 L466.79999999999995,382.5 A8.6,3.8 0 0 0 484.0,382.5 L484.0,375.5 Z" />
<ellipse class="d" cx="475.4" cy="375.5" rx="8.6" ry="3.8" />
<ellipse class="m" cx="475.4" cy="375.5" rx="6.7" ry="2.8" style="stroke-width:0.8"/>
<ellipse class="d" cx="475.4" cy="375.5" rx="4.3" ry="1.8" style="stroke-width:0.8"/>
<line class="nl" x1="469.2" y1="378.9" x2="469.2" y2="385.2" style="stroke-width:0.8"/>
<line class="n" x1="472.3" y1="378.9" x2="472.3" y2="385.2" style="stroke-width:0.8"/>
<line class="nl" x1="475.4" y1="378.9" x2="475.4" y2="385.2" style="stroke-width:0.8"/>
<line class="n" x1="478.5" y1="378.9" x2="478.5" y2="385.2" style="stroke-width:0.8"/>
<line class="nl" x1="481.6" y1="378.9" x2="481.6" y2="385.2" style="stroke-width:0.8"/>
<polygon class="m" points="498.0,413.7 517.6,424.5 517.6,473.8 498.0,464.0" style="fill:#858585"/>
<line class="n" x1="500.0" y1="419.0" x2="508.5" y2="423.4" style="stroke-width:1.5;stroke:#0d0d0d"/>
<line class="n" x1="510.5" y1="424.4" x2="516.0" y2="427.4" style="stroke-width:1.5;stroke:#0d0d0d"/>
<line class="n" x1="500.0" y1="422.3" x2="508.5" y2="426.7" style="stroke-width:1.5;stroke:#0d0d0d"/>
<line class="n" x1="510.5" y1="427.7" x2="516.0" y2="430.7" style="stroke-width:1.5;stroke:#0d0d0d"/>
<line class="n" x1="500.0" y1="425.6" x2="508.5" y2="430.0" style="stroke-width:1.5;stroke:#0d0d0d"/>
<line class="n" x1="510.5" y1="431.0" x2="516.0" y2="434.0" style="stroke-width:1.5;stroke:#0d0d0d"/>
<line class="n" x1="500.0" y1="428.9" x2="508.5" y2="433.3" style="stroke-width:1.5;stroke:#0d0d0d"/>
<line class="n" x1="510.5" y1="434.3" x2="516.0" y2="437.3" style="stroke-width:1.5;stroke:#0d0d0d"/>
<line class="n" x1="500.0" y1="432.2" x2="508.5" y2="436.6" style="stroke-width:1.5;stroke:#0d0d0d"/>
<line class="n" x1="510.5" y1="437.6" x2="516.0" y2="440.6" style="stroke-width:1.5;stroke:#0d0d0d"/>
<line class="n" x1="500.0" y1="435.5" x2="508.5" y2="439.9" style="stroke-width:1.5;stroke:#0d0d0d"/>
<line class="n" x1="510.5" y1="440.9" x2="516.0" y2="443.9" style="stroke-width:1.5;stroke:#0d0d0d"/>
<line class="n" x1="500.0" y1="438.8" x2="508.5" y2="443.2" style="stroke-width:1.5;stroke:#0d0d0d"/>
<line class="n" x1="510.5" y1="444.2" x2="516.0" y2="447.2" style="stroke-width:1.5;stroke:#0d0d0d"/>
<line class="n" x1="500.0" y1="442.1" x2="508.5" y2="446.5" style="stroke-width:1.5;stroke:#0d0d0d"/>
<line class="n" x1="510.5" y1="447.5" x2="516.0" y2="450.5" style="stroke-width:1.5;stroke:#0d0d0d"/>
<line class="n" x1="500.0" y1="445.4" x2="508.5" y2="449.8" style="stroke-width:1.5;stroke:#0d0d0d"/>
<line class="n" x1="510.5" y1="450.8" x2="516.0" y2="453.8" style="stroke-width:1.5;stroke:#0d0d0d"/>
<polygon class="m" points="497.0,444.0 512.0,451.0 512.5,472.0 497.0,464.5" style="stroke-width:0.8;fill:#7c7c7c"/>
<line class="n" x1="499.0" y1="449.0" x2="510.5" y2="454.4" style="stroke-width:1.3;stroke:#111"/>
<line class="n" x1="499.0" y1="452.0" x2="510.5" y2="457.4" style="stroke-width:1.3;stroke:#111"/>
<line class="n" x1="499.0" y1="455.0" x2="510.5" y2="460.4" style="stroke-width:1.3;stroke:#111"/>
<line class="n" x1="499.0" y1="458.0" x2="510.5" y2="463.4" style="stroke-width:1.3;stroke:#111"/>
<line class="n" x1="499.0" y1="461.0" x2="510.5" y2="466.4" style="stroke-width:1.3;stroke:#111"/>
<line class="n" x1="499.0" y1="464.0" x2="510.5" y2="469.4" style="stroke-width:1.3;stroke:#111"/>
<line class="n" x1="487.0" y1="436.0" x2="497.0" y2="430.0" style="stroke-width:1.3;stroke:#111"/>
<line class="n" x1="487.0" y1="439.0" x2="497.0" y2="433.0" style="stroke-width:1.3;stroke:#111"/>
<line class="n" x1="487.0" y1="442.0" x2="497.0" y2="436.0" style="stroke-width:1.3;stroke:#111"/>
<line class="n" x1="487.0" y1="445.0" x2="497.0" y2="439.0" style="stroke-width:1.3;stroke:#111"/>
<line class="n" x1="487.0" y1="448.0" x2="497.0" y2="442.0" style="stroke-width:1.3;stroke:#111"/>
<line class="n" x1="487.0" y1="451.0" x2="497.0" y2="445.0" style="stroke-width:1.3;stroke:#111"/>
<line class="n" x1="487.0" y1="454.0" x2="497.0" y2="448.0" style="stroke-width:1.3;stroke:#111"/>
<polygon class="l" points="517.6,424.5 524.5,423.0 524.5,473.0 517.6,473.8" />
<line class="ng" x1="521.0" y1="425.0" x2="521.0" y2="473.0" />
<polygon class="d" points="524.5,423.0 566.0,416.5 566.0,468.0 524.5,475.0" />
<circle class="d" cx="535.5" cy="435.0" r="5.6" style="stroke-width:1.2"/>
<circle class="m" cx="536.5" cy="435.5" r="3.3" style="stroke-width:0.8"/>
<circle class="k" cx="530.0" cy="428.0" r="1.6" />
<polygon class="m" points="547.0,424.0 564.0,421.5 564.0,427.0 547.0,429.5" style="stroke-width:0.8"/>
<ellipse class="dd" cx="557.0" cy="433.0" rx="4.6" ry="6.0" style="stroke-width:1.2"/>
<ellipse class="vl" cx="552.5" cy="434.5" rx="2.2" ry="3.0" style="stroke-width:0.7"/>
<path class="ng" d="M551,441 Q560,452 562,468" />
<path class="ng" d="M556,439 Q564,452 565,466" />
<path class="d" d="M527.5,450 L533,446 L548,444 L553,452 L554.5,466 L548,473 L531,475 L526,470 Z" style="stroke-width:1.3"/>
<path class="m" d="M532,459 L536,455.5 L549,454.5 L551.5,461 L548,467 L536,468.5 Z" style="stroke-width:0.8;fill:#6e6e6e"/>
<text x="535.5" y="465.5" font-size="7" font-style="italic" font-weight="bold" fill="#bdbdbd" stroke="#222" stroke-width="0.3" textLength="13">colo</text>
<polygon class="dd" points="517.0,472.0 528.0,470.0 536.0,473.0 536.0,479.0 519.0,481.5" style="stroke-width:0.8"/>
<circle class="l" cx="526.5" cy="476.3" r="1.8" style="stroke-width:0.6"/>
<polygon class="m" points="566.0,416.7 597.4,409.8 599.4,460.0 590.0,463.0 566.0,467.9" style="fill:#727272"/>
<line class="n" x1="572.0" y1="436.0" x2="594.0" y2="431.4" style="stroke-width:2;stroke:#0d0d0d"/>
<line class="n" x1="572.0" y1="440.3" x2="594.0" y2="435.7" style="stroke-width:2;stroke:#0d0d0d"/>
<line class="n" x1="572.0" y1="444.6" x2="594.0" y2="440.0" style="stroke-width:2;stroke:#0d0d0d"/>
<line class="n" x1="572.0" y1="448.9" x2="594.0" y2="444.3" style="stroke-width:2;stroke:#0d0d0d"/>
<line class="n" x1="572.0" y1="453.2" x2="594.0" y2="448.6" style="stroke-width:2;stroke:#0d0d0d"/>
<circle class="k" cx="570.5" cy="428.2" r="2.3" />
<circle class="k" cx="593.5" cy="423.2" r="2.3" />
<path class="m" d="M587,456.5 L596,454.5 Q599,457 596,460 L588,462 Q585,459.5 587,456.5Z" style="stroke-width:0.8"/>
<circle class="l" cx="590.3" cy="458.5" r="1.6" style="stroke-width:0.6"/>
<polygon class="k" points="599.0,417.5 601.5,418.5 601.5,430.0 599.3,430.5" />
<polygon class="m" points="498.5,408.3 515.5,401.7 564.0,391.2 583.8,391.2 594.3,400.4 598.3,407.0 597.4,409.8 566.0,416.7 524.5,423.0 517.6,424.5 498.0,413.7" style="fill:#7b7b7b"/>
<polyline class="n" points="500.5,411.5 518.0,421.0 525.0,419.5 566.0,412.7 596.5,406.0" style="stroke-width:0.8"/>
<polyline class="nl" points="501.5,409.5 518.5,418.5 525.0,417.2 566.0,410.5 595.5,403.8" style="stroke-width:0.8"/>
<polygon class="k" points="516.9,399.7 527.3,397.9 529.2,399.5 518.8,401.3" />
<polygon class="k" points="528.5,397.7 538.9,396.0 540.8,397.5 530.4,399.3" />
<polygon class="k" points="540.1,395.8 550.5,394.0 552.4,395.6 542.0,397.4" />
<polygon class="k" points="520.0,402.1 530.4,400.4 532.3,401.9 521.9,403.8" />
<polygon class="k" points="531.6,400.2 542.0,398.4 543.9,400.0 533.5,401.8" />
<polygon class="k" points="543.2,398.2 553.6,396.4 555.5,398.0 545.1,399.8" />
<polygon class="k" points="523.1,404.6 533.5,402.8 535.4,404.4 525.0,406.2" />
<polygon class="k" points="534.7,402.6 545.1,400.9 547.0,402.4 536.6,404.2" />
<polygon class="k" points="546.3,400.7 556.7,398.9 558.6,400.5 548.2,402.3" />
<polygon class="k" points="526.2,407.1 536.6,405.3 538.5,406.9 528.1,408.7" />
<polygon class="k" points="537.8,405.1 548.2,403.3 550.1,404.9 539.7,406.7" />
<polygon class="k" points="549.4,403.1 559.8,401.3 561.7,402.9 551.3,404.7" />
<ellipse class="dd" cx="572.5" cy="397.0" rx="9.0" ry="4.2" style="stroke-width:1.1"/>
<ellipse class="l" cx="576.0" cy="396.2" rx="3.0" ry="1.6" style="stroke-width:0.5"/>
</g>
<g id="p_small">
<polygon class="d" points="383.9,512.6 395.3,511.8 395.6,590.6 384.1,591.2" style="fill:#636363"/>
<line class="nl" x1="393.9" y1="512.8" x2="394.1" y2="590.2" style="stroke-width:0.7"/>
<circle class="vl" cx="390.2" cy="516.5" r="1.7" style="stroke-width:0.7"/>
<circle class="vl" cx="390.2" cy="586.0" r="1.7" style="stroke-width:0.7"/>
<polygon class="d" points="434.6,598.3 446.6,597.5 446.9,677.2 434.8,677.8" style="fill:#636363"/>
<line class="nl" x1="445.2" y1="598.5" x2="445.4" y2="676.8" style="stroke-width:0.7"/>
<circle class="vl" cx="441.2" cy="603.0" r="1.7" style="stroke-width:0.7"/>
<circle class="vl" cx="441.2" cy="620.5" r="1.7" style="stroke-width:0.7"/>
<circle class="vl" cx="441.2" cy="672.0" r="1.7" style="stroke-width:0.7"/>
<path class="n" d="M298.4,463.4 C299.8,459.5 301.8,458.5 303.5,458.2 C305.2,457.9 306.7,456.5 308.5,461.8 C310.3,467.1 312.7,481.0 314.3,490.2 C315.9,499.4 317.8,510.3 318.2,517.0 C318.6,523.7 318.0,526.8 316.8,530.4 C315.6,534.0 313.2,538.0 311.0,538.6 C308.8,539.2 306.2,537.6 303.5,533.7 C300.8,529.8 296.7,520.3 295.0,515.3 C293.3,510.3 293.2,509.2 293.2,503.6 C293.2,498.0 294.1,488.5 295.0,481.8 C295.9,475.1 297.0,467.3 298.4,463.4Z" style="stroke-width:3.6;stroke:#222"/>
<path class="n" d="M298.4,463.4 C299.8,459.5 301.8,458.5 303.5,458.2 C305.2,457.9 306.7,456.5 308.5,461.8 C310.3,467.1 312.7,481.0 314.3,490.2 C315.9,499.4 317.8,510.3 318.2,517.0 C318.6,523.7 318.0,526.8 316.8,530.4 C315.6,534.0 313.2,538.0 311.0,538.6 C308.8,539.2 306.2,537.6 303.5,533.7 C300.8,529.8 296.7,520.3 295.0,515.3 C293.3,510.3 293.2,509.2 293.2,503.6 C293.2,498.0 294.1,488.5 295.0,481.8 C295.9,475.1 297.0,467.3 298.4,463.4Z" style="stroke-width:1.5;stroke:#9c9c9c"/>
<path class="n" d="M379.6,465.3 L377.4,480.5 L390.0,482.6 L399.0,480.0 L400.3,477.0 L401.5,462.0" style="stroke-width:3;stroke:#2a2a2a"/>
<path class="n" d="M379.6,465.3 L377.4,480.5 L390.0,482.6 L399.0,480.0 L400.3,477.0 L401.5,462.0" style="stroke-width:1.2;stroke:#b8b8b8"/>
<path class="n" d="M379.6,465.3 L391.3,475.5 L391.8,487.5 L394.0,489.8 L412.0,487.0 L414.0,484.5 L415.6,468.0" style="stroke-width:3;stroke:#2a2a2a"/>
<path class="n" d="M379.6,465.3 L391.3,475.5 L391.8,487.5 L394.0,489.8 L412.0,487.0 L414.0,484.5 L415.6,468.0" style="stroke-width:1.2;stroke:#b8b8b8"/>
<ellipse class="vl" cx="401.6" cy="461.3" rx="1.9" ry="3.0" transform="rotate(8 401.6 461.3)" style="stroke-width:0.8"/>
<ellipse class="vl" cx="415.8" cy="467.2" rx="1.9" ry="3.0" transform="rotate(8 415.8 467.2)" style="stroke-width:0.8"/>
<line class="n" x1="37.6" y1="377.6" x2="128.8" y2="418.6" style="stroke-width:5.3;stroke:#2b2b2b;stroke-linecap:butt"/>
<line class="n" x1="37.6" y1="377.6" x2="128.8" y2="418.6" style="stroke-width:3.9;stroke:#747474;stroke-linecap:butt"/>
<line class="n" x1="36.0" y1="376.9" x2="41.5" y2="379.4" style="stroke-width:6.6;stroke:#2b2b2b;stroke-linecap:butt"/>
<line class="n" x1="36.0" y1="376.9" x2="41.5" y2="379.4" style="stroke-width:5.2;stroke:#c2c2c2;stroke-linecap:butt"/>
<line class="n" x1="59.5" y1="387.5" x2="63.0" y2="389.0" style="stroke-width:6.9;stroke:#2b2b2b;stroke-linecap:butt"/>
<line class="n" x1="59.5" y1="387.5" x2="63.0" y2="389.0" style="stroke-width:5.5;stroke:#bdbdbd;stroke-linecap:butt"/>
<line class="n" x1="63.5" y1="389.3" x2="68.0" y2="391.3" style="stroke-width:9.6;stroke:#2b2b2b;stroke-linecap:butt"/>
<line class="n" x1="63.5" y1="389.3" x2="68.0" y2="391.3" style="stroke-width:8.2;stroke:#9a9a9a;stroke-linecap:butt"/>
<line class="n" x1="68.5" y1="391.5" x2="71.0" y2="392.6" style="stroke-width:7.0;stroke:#2b2b2b;stroke-linecap:butt"/>
<line class="n" x1="68.5" y1="391.5" x2="71.0" y2="392.6" style="stroke-width:5.6;stroke:#c4c4c4;stroke-linecap:butt"/>
<line class="n" x1="81.0" y1="397.1" x2="84.5" y2="398.7" style="stroke-width:6.4;stroke:#2b2b2b;stroke-linecap:butt"/>
<line class="n" x1="81.0" y1="397.1" x2="84.5" y2="398.7" style="stroke-width:5;stroke:#bdbdbd;stroke-linecap:butt"/>
<line class="n" x1="108.5" y1="409.5" x2="112.5" y2="411.3" style="stroke-width:6.6;stroke:#2b2b2b;stroke-linecap:butt"/>
<line class="n" x1="108.5" y1="409.5" x2="112.5" y2="411.3" style="stroke-width:5.2;stroke:#c4c4c4;stroke-linecap:butt"/>
<polygon class="l" points="128.0,421.1 128.8,415.3 133.8,412.6 155.6,428.7 157.4,434.6 133.8,427.8" style="fill:#b5b5b5;stroke:#555;stroke-width:0.8"/>
<line class="n" x1="136.0" y1="417.5" x2="133.8" y2="422.7" style="stroke-width:0.7;stroke:#666"/>
<line class="n" x1="138.8" y1="419.5" x2="136.6" y2="424.7" style="stroke-width:0.7;stroke:#666"/>
<line class="n" x1="141.6" y1="421.5" x2="139.4" y2="426.7" style="stroke-width:0.7;stroke:#666"/>
<line class="n" x1="144.4" y1="423.5" x2="142.2" y2="428.7" style="stroke-width:0.7;stroke:#666"/>
<line class="n" x1="147.2" y1="425.5" x2="145.0" y2="430.7" style="stroke-width:0.7;stroke:#666"/>
<line class="n" x1="150.0" y1="427.5" x2="147.8" y2="432.7" style="stroke-width:0.7;stroke:#666"/>
<line class="n" x1="152.8" y1="429.5" x2="150.6" y2="434.7" style="stroke-width:0.7;stroke:#666"/>
<line class="n" x1="134.0" y1="420.5" x2="154.5" y2="431.5" style="stroke-width:0.6;stroke:#777"/>
<ellipse class="k" cx="183.1" cy="420.3" rx="3.3" ry="2.6" />
<ellipse class="k" cx="185.7" cy="421.9" rx="2.3" ry="2.0" />
<circle cx="182.6" cy="419.8" r="1.2" fill="#777"/>
<ellipse class="k" cx="183.1" cy="434.5" rx="3.3" ry="2.6" />
<ellipse class="k" cx="185.7" cy="436.1" rx="2.3" ry="2.0" />
<circle cx="182.6" cy="434.0" r="1.2" fill="#777"/>
<ellipse class="k" cx="182.6" cy="473.8" rx="3.3" ry="2.6" />
<ellipse class="k" cx="185.2" cy="475.4" rx="2.3" ry="2.0" />
<circle cx="182.1" cy="473.3" r="1.2" fill="#777"/>
<ellipse class="k" cx="290.0" cy="548.5" rx="3.0" ry="2.4" />
<ellipse class="k" cx="292.4" cy="550.0" rx="2.1" ry="1.8" />
<circle cx="289.5" cy="548.0" r="1.0" fill="#777"/>
<ellipse class="k" cx="289.5" cy="562.5" rx="3.0" ry="2.4" />
<ellipse class="k" cx="291.9" cy="564.0" rx="2.1" ry="1.8" />
<circle cx="289.0" cy="562.0" r="1.0" fill="#777"/>
<ellipse class="k" cx="289.0" cy="600.5" rx="3.0" ry="2.4" />
<ellipse class="k" cx="291.4" cy="602.0" rx="2.1" ry="1.8" />
<circle cx="288.5" cy="600.0" r="1.0" fill="#777"/>
<polygon class="dd" points="344.3,471.7 349.5,471.1 350.1,477.1 344.9,477.7" style="stroke-width:0.8"/>
<polygon class="m" points="349.5,472.5 353.7,472.1 353.9,475.9 349.9,476.3" style="stroke-width:0.7"/>
<line class="nl" x1="345.9" y1="471.9" x2="346.3" y2="477.3" style="stroke-width:0.7"/>
<polygon class="dd" points="335.1,481.8 340.3,481.2 340.9,487.2 335.7,487.8" style="stroke-width:0.8"/>
<polygon class="m" points="340.3,482.6 344.5,482.2 344.7,486.0 340.7,486.4" style="stroke-width:0.7"/>
<line class="nl" x1="336.7" y1="482.0" x2="337.1" y2="487.4" style="stroke-width:0.7"/>
</g>
<g id="p_labels">
<text class="lb" x="193.3" y="170.3">7</text>
<text class="lb" x="344" y="181.5">8</text>
<text class="lb" x="450" y="285">9</text>
<text class="lb" x="401" y="351">10</text>
<text class="lb" x="602.5" y="278.5">11</text>
<text class="lb" x="107.5" y="376.5">6</text>
<text class="lb" x="354" y="519">5</text>
<text class="lb" x="310" y="592">4</text>
<text class="lb" x="345" y="585">3</text>
<text class="lb" x="375" y="642.5">2</text>
<text class="lb" x="279.5" y="648">1</text>
<line class="ld" x1="198.7" y1="171.8" x2="184.6" y2="206.8" />
<line class="ld" x1="353.5" y1="183.0" x2="354.8" y2="223.0" />
<line class="ld" x1="412.6" y1="262.4" x2="450.7" y2="277.4" />
<line class="ld" x1="620.0" y1="275.0" x2="652.0" y2="286.8" />
<line class="ld" x1="113.7" y1="377.0" x2="107.9" y2="407.7" />
<line class="ld" x1="376.3" y1="482.7" x2="362.0" y2="507.0" />
<line class="ld" x1="311.0" y1="539.6" x2="314.5" y2="579.0" />
<line class="ld" x1="239.6" y1="638.2" x2="279.8" y2="642.7" />
<line class="ld" x1="402.2" y1="345.0" x2="370.4" y2="360.1" />
<line class="ld" x1="354.0" y1="578.8" x2="383.9" y2="573.6" />
<line class="ld" x1="386.9" y1="636.6" x2="434.6" y2="639.6" />
</g>
</svg>
</body></html>
